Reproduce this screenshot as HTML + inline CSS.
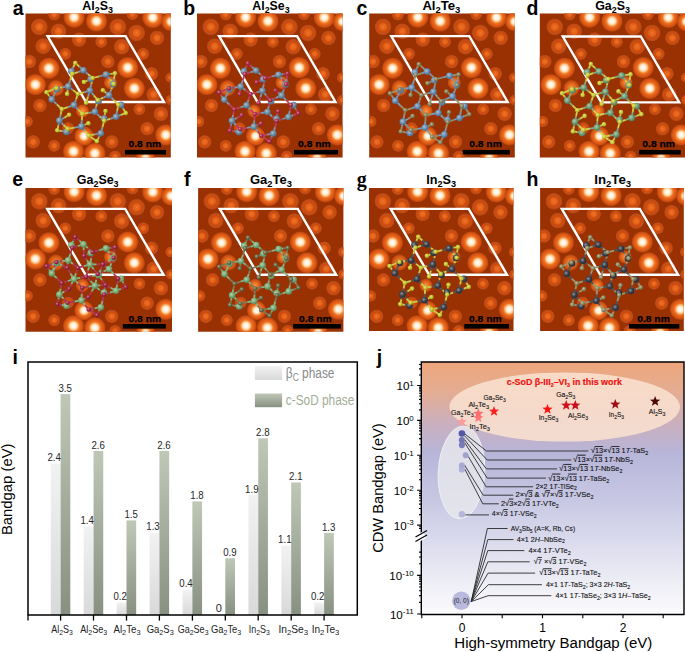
<!DOCTYPE html><html><head><meta charset="utf-8"><style>html,body{margin:0;padding:0;background:#fff;width:685px;height:652px;overflow:hidden}svg{display:block}text{font-family:"Liberation Sans",sans-serif}.ttl{font-weight:bold;font-size:12.5px}.sub{font-size:9px}.lbl{font-weight:bold;font-size:19.5px}.serif{font-family:"Liberation Serif",serif;font-size:20px}.sb{font-weight:bold;font-size:9.8px}.s{font-size:8px}.bv{font-size:11px;fill:#262626}.xl{font-size:10.5px;fill:#222}.lg{font-size:14px}.ls{font-size:10px}.ax{font-size:15.5px}.jt{font-weight:bold;font-size:9.2px;fill:#ee1010;stroke:#ee1010;stroke-width:0.15px}.s7{font-size:5.5px}.s6{font-size:5.5px}.jl{font-size:7.6px;fill:#111;stroke:#111;stroke-width:0.12px}.js{font-size:7.4px;fill:#111;stroke:#111;stroke-width:0.12px}.j0{font-size:6.5px;fill:#222}.jy{font-size:11.6px}.sup{font-size:8px}.jx{font-size:12px}</style></head><body>
<svg width="685" height="652" viewBox="0 0 685 652">
<defs><radialGradient id="gB"><stop offset="0" stop-color="#fffcf6"/><stop offset="0.2" stop-color="#fff4e4"/><stop offset="0.33" stop-color="#fdd6a8"/><stop offset="0.45" stop-color="#f8a052"/><stop offset="0.52" stop-color="#ef7626"/><stop offset="0.66" stop-color="#e6621a"/><stop offset="0.8" stop-color="#d65414"/><stop offset="0.9" stop-color="#c44a10"/><stop offset="1" stop-color="#b04010" stop-opacity="0"/></radialGradient><radialGradient id="gG"><stop offset="0" stop-color="#f8984a"/><stop offset="0.3" stop-color="#f07c2c"/><stop offset="0.6" stop-color="#dc6018"/><stop offset="0.85" stop-color="#c44c12"/><stop offset="1" stop-color="#b04010" stop-opacity="0"/></radialGradient><radialGradient id="gM"><stop offset="0" stop-color="#ef7c3c"/><stop offset="0.12" stop-color="#ea6a22"/><stop offset="0.38" stop-color="#e26218"/><stop offset="0.5" stop-color="#d04d0e"/><stop offset="0.64" stop-color="#ca4b10"/><stop offset="0.75" stop-color="#c44f18"/><stop offset="0.9" stop-color="#b84614"/><stop offset="1" stop-color="#a83c0c" stop-opacity="0"/></radialGradient><radialGradient id="gS"><stop offset="0" stop-color="#e05a14"/><stop offset="0.45" stop-color="#d45210"/><stop offset="0.8" stop-color="#bc4610"/><stop offset="1" stop-color="#a83c0c" stop-opacity="0"/></radialGradient>
<radialGradient id="as_8a845a" cx="0.4" cy="0.38" r="0.62"><stop offset="0" stop-color="#bebba4"/><stop offset="0.55" stop-color="#8a845a"/><stop offset="1" stop-color="#676343"/></radialGradient>
<radialGradient id="ab_7aac74" cx="0.4" cy="0.38" r="0.62"><stop offset="0" stop-color="#b5d1b2"/><stop offset="0.55" stop-color="#7aac74"/><stop offset="1" stop-color="#5b8157"/></radialGradient>
<radialGradient id="as_b02848" cx="0.4" cy="0.38" r="0.62"><stop offset="0" stop-color="#d3889a"/><stop offset="0.55" stop-color="#b02848"/><stop offset="1" stop-color="#841e36"/></radialGradient>
<radialGradient id="as_c8c82c" cx="0.4" cy="0.38" r="0.62"><stop offset="0" stop-color="#e0e08a"/><stop offset="0.55" stop-color="#c8c82c"/><stop offset="1" stop-color="#969621"/></radialGradient>
<radialGradient id="ab_70a078" cx="0.4" cy="0.38" r="0.62"><stop offset="0" stop-color="#b0cab4"/><stop offset="0.55" stop-color="#70a078"/><stop offset="1" stop-color="#54785a"/></radialGradient>
<radialGradient id="ab_3c4048" cx="0.4" cy="0.38" r="0.62"><stop offset="0" stop-color="#93959a"/><stop offset="0.55" stop-color="#3c4048"/><stop offset="1" stop-color="#2d3036"/></radialGradient>
<radialGradient id="ab_78ac78" cx="0.4" cy="0.38" r="0.62"><stop offset="0" stop-color="#b4d1b4"/><stop offset="0.55" stop-color="#78ac78"/><stop offset="1" stop-color="#5a815a"/></radialGradient>
<radialGradient id="ab_6d8ca6" cx="0.4" cy="0.38" r="0.62"><stop offset="0" stop-color="#aebfce"/><stop offset="0.55" stop-color="#6d8ca6"/><stop offset="1" stop-color="#51697c"/></radialGradient>
<radialGradient id="as_6c6844" cx="0.4" cy="0.38" r="0.62"><stop offset="0" stop-color="#aeab98"/><stop offset="0.55" stop-color="#6c6844"/><stop offset="1" stop-color="#514e33"/></radialGradient>
<radialGradient id="ab_6890b6" cx="0.4" cy="0.38" r="0.62"><stop offset="0" stop-color="#abc1d6"/><stop offset="0.55" stop-color="#6890b6"/><stop offset="1" stop-color="#4e6c88"/></radialGradient>
<radialGradient id="as_cccc34" cx="0.4" cy="0.38" r="0.62"><stop offset="0" stop-color="#e2e28f"/><stop offset="0.55" stop-color="#cccc34"/><stop offset="1" stop-color="#999927"/></radialGradient>
<radialGradient id="as_a02044" cx="0.4" cy="0.38" r="0.62"><stop offset="0" stop-color="#ca8498"/><stop offset="0.55" stop-color="#a02044"/><stop offset="1" stop-color="#781833"/></radialGradient>
<radialGradient id="as_8e8c60" cx="0.4" cy="0.38" r="0.62"><stop offset="0" stop-color="#c0bfa7"/><stop offset="0.55" stop-color="#8e8c60"/><stop offset="1" stop-color="#6a6948"/></radialGradient>
<radialGradient id="ab_3a3e48" cx="0.4" cy="0.38" r="0.62"><stop offset="0" stop-color="#92949a"/><stop offset="0.55" stop-color="#3a3e48"/><stop offset="1" stop-color="#2b2e36"/></radialGradient>
<g id="stmbg"><rect x="-5" y="-5" width="160" height="160" fill="#993103"/><circle cx="53.6" cy="26.0" r="7.59" fill="url(#gM)"/><circle cx="75.8" cy="28.2" r="6.33" fill="url(#gM)"/><circle cx="39.8" cy="40.3" r="6.33" fill="url(#gM)"/><circle cx="117.7" cy="40.3" r="6.33" fill="url(#gM)"/><circle cx="113.9" cy="95.7" r="6.33" fill="url(#gM)"/><circle cx="28.7" cy="132.2" r="6.33" fill="url(#gM)"/><circle cx="28.7" cy="0.9" r="6.33" fill="url(#gM)"/><circle cx="107.0" cy="0.5" r="6.33" fill="url(#gM)"/><circle cx="42.6" cy="114.6" r="6.33" fill="url(#gM)"/><circle cx="89.6" cy="143.0" r="6.33" fill="url(#gM)"/><circle cx="13.8" cy="13.3" r="8.80" fill="url(#gM)"/><circle cx="33.1" cy="17.7" r="8.25" fill="url(#gM)"/><circle cx="92.3" cy="13.3" r="8.80" fill="url(#gM)"/><circle cx="111.1" cy="19.3" r="8.80" fill="url(#gM)"/><circle cx="131.5" cy="24.3" r="7.70" fill="url(#gM)"/><circle cx="17.7" cy="32.6" r="8.25" fill="url(#gM)"/><circle cx="96.2" cy="33.1" r="8.25" fill="url(#gM)"/><circle cx="3.9" cy="48.0" r="7.15" fill="url(#gM)"/><circle cx="82.4" cy="48.0" r="7.15" fill="url(#gM)"/><circle cx="126.0" cy="60.2" r="7.15" fill="url(#gM)"/><circle cx="14.4" cy="91.9" r="7.15" fill="url(#gM)"/><circle cx="7.7" cy="128.3" r="7.15" fill="url(#gM)"/><circle cx="128.2" cy="80.8" r="7.70" fill="url(#gM)"/><circle cx="135.4" cy="100.2" r="7.70" fill="url(#gM)"/><circle cx="121.6" cy="115.1" r="7.15" fill="url(#gM)"/><circle cx="86.3" cy="128.3" r="7.15" fill="url(#gM)"/><circle cx="1.7" cy="107.9" r="6.05" fill="url(#gM)"/><circle cx="145.0" cy="64.0" r="5.50" fill="url(#gM)"/><circle cx="145.3" cy="86.4" r="5.50" fill="url(#gM)"/><circle cx="30.5" cy="74.5" r="8.50" fill="url(#gG)"/><circle cx="56.9" cy="97.4" r="7.00" fill="url(#gG)"/><circle cx="85.0" cy="69.0" r="7.00" fill="url(#gG)"/><circle cx="48.6" cy="3.6" r="11.00" fill="url(#gB)"/><circle cx="71.0" cy="7.5" r="11.00" fill="url(#gB)"/><circle cx="127.3" cy="3.9" r="11.00" fill="url(#gB)"/><circle cx="145.5" cy="8.0" r="10.00" fill="url(#gB)"/><circle cx="23.4" cy="54.7" r="11.00" fill="url(#gB)"/><circle cx="9.9" cy="71.0" r="11.00" fill="url(#gB)"/><circle cx="102.2" cy="54.0" r="11.00" fill="url(#gB)"/><circle cx="108.8" cy="74.8" r="11.00" fill="url(#gB)"/><circle cx="140.3" cy="121.3" r="11.00" fill="url(#gB)"/><circle cx="48.0" cy="137.8" r="11.00" fill="url(#gB)"/><circle cx="69.3" cy="139.8" r="11.00" fill="url(#gB)"/><circle cx="120.0" cy="145.0" r="10.00" fill="url(#gB)"/><circle cx="58.5" cy="122.5" r="10.00" fill="url(#gB)"/></g>
</defs>
<g transform="translate(25.5,13.6)">
<clipPath id="pca"><rect x="0" y="0" width="145.3" height="143.9"/></clipPath>
<g clip-path="url(#pca)"><use href="#stmbg" x="0.0"/>
<path d="M22.1,22.5 L100.1,22.5 L138.5,88.4 L60.5,88.4 Z" fill="none" stroke="#fff" stroke-width="2.4" stroke-linejoin="miter"/>
<g transform="translate(0.00,0.00)"><g stroke-width="1.8" stroke-linecap="butt"><line x1="49.8" y1="49.4" x2="47.8" y2="53.5" stroke="#cece45"/><line x1="47.8" y1="53.5" x2="45.9" y2="57.6" stroke="#7e99b0"/><line x1="49.8" y1="49.4" x2="53.9" y2="53.1" stroke="#cece45"/><line x1="53.9" y1="53.1" x2="58.0" y2="56.8" stroke="#7e99b0"/><line x1="46.8" y1="60.2" x2="52.4" y2="58.5" stroke="#cece45"/><line x1="52.4" y1="58.5" x2="58.0" y2="56.8" stroke="#7e99b0"/><line x1="46.8" y1="60.2" x2="46.3" y2="58.9" stroke="#cece45"/><line x1="46.3" y1="58.9" x2="45.9" y2="57.6" stroke="#7e99b0"/><line x1="58.0" y1="56.8" x2="62.5" y2="60.6" stroke="#7e99b0"/><line x1="62.5" y1="60.6" x2="67.1" y2="64.4" stroke="#cece45"/><line x1="67.1" y1="64.4" x2="73.8" y2="62.7" stroke="#cece45"/><line x1="73.8" y1="62.7" x2="80.5" y2="60.9" stroke="#7e99b0"/><line x1="80.5" y1="60.9" x2="85.0" y2="60.3" stroke="#7e99b0"/><line x1="85.0" y1="60.3" x2="89.5" y2="59.7" stroke="#cece45"/><line x1="80.5" y1="60.9" x2="84.3" y2="65.6" stroke="#7e99b0"/><line x1="84.3" y1="65.6" x2="88.2" y2="70.3" stroke="#cece45"/><line x1="89.5" y1="59.7" x2="88.5" y2="65.2" stroke="#cece45"/><line x1="88.5" y1="65.2" x2="87.6" y2="70.6" stroke="#7e99b0"/><line x1="88.2" y1="70.3" x2="87.9" y2="70.4" stroke="#cece45"/><line x1="87.9" y1="70.4" x2="87.6" y2="70.6" stroke="#7e99b0"/><line x1="65.2" y1="65.5" x2="61.9" y2="67.0" stroke="#7e99b0"/><line x1="61.9" y1="67.0" x2="58.5" y2="68.4" stroke="#cece45"/><line x1="67.1" y1="64.4" x2="66.2" y2="65.0" stroke="#cece45"/><line x1="66.2" y1="65.0" x2="65.2" y2="65.5" stroke="#7e99b0"/><line x1="67.1" y1="64.4" x2="65.8" y2="70.7" stroke="#cece45"/><line x1="65.8" y1="70.7" x2="64.4" y2="77.0" stroke="#7e99b0"/><line x1="64.4" y1="77.0" x2="58.4" y2="78.7" stroke="#7e99b0"/><line x1="58.4" y1="78.7" x2="52.4" y2="80.3" stroke="#cece45"/><line x1="64.4" y1="77.0" x2="68.3" y2="81.8" stroke="#7e99b0"/><line x1="68.3" y1="81.8" x2="72.3" y2="86.5" stroke="#cece45"/><line x1="83.5" y1="81.6" x2="80.5" y2="79.2" stroke="#7e99b0"/><line x1="80.5" y1="79.2" x2="77.4" y2="76.7" stroke="#cece45"/><line x1="83.5" y1="81.6" x2="77.9" y2="84.0" stroke="#7e99b0"/><line x1="77.9" y1="84.0" x2="72.3" y2="86.5" stroke="#cece45"/><line x1="83.5" y1="81.6" x2="88.2" y2="86.4" stroke="#7e99b0"/><line x1="88.2" y1="86.4" x2="92.8" y2="91.2" stroke="#cece45"/><line x1="88.2" y1="70.3" x2="85.8" y2="75.9" stroke="#cece45"/><line x1="85.8" y1="75.9" x2="83.5" y2="81.6" stroke="#7e99b0"/><line x1="42.7" y1="72.8" x2="47.5" y2="76.5" stroke="#7e99b0"/><line x1="47.5" y1="76.5" x2="52.4" y2="80.3" stroke="#cece45"/><line x1="42.7" y1="72.8" x2="42.2" y2="76.5" stroke="#7e99b0"/><line x1="42.2" y1="76.5" x2="41.6" y2="80.3" stroke="#cece45"/><line x1="42.7" y1="72.8" x2="44.8" y2="66.5" stroke="#7e99b0"/><line x1="44.8" y1="66.5" x2="46.8" y2="60.2" stroke="#cece45"/><line x1="30.9" y1="74.6" x2="36.8" y2="73.7" stroke="#cece45"/><line x1="36.8" y1="73.7" x2="42.7" y2="72.8" stroke="#7e99b0"/><line x1="21.0" y1="78.6" x2="25.9" y2="76.6" stroke="#cece45"/><line x1="25.9" y1="76.6" x2="30.9" y2="74.6" stroke="#cece45"/><line x1="21.0" y1="78.6" x2="23.6" y2="82.2" stroke="#cece45"/><line x1="23.6" y1="82.2" x2="26.3" y2="85.9" stroke="#7e99b0"/><line x1="31.5" y1="75.6" x2="28.9" y2="80.8" stroke="#7e99b0"/><line x1="28.9" y1="80.8" x2="26.3" y2="85.9" stroke="#7e99b0"/><line x1="30.9" y1="74.6" x2="31.2" y2="75.1" stroke="#cece45"/><line x1="31.2" y1="75.1" x2="31.5" y2="75.6" stroke="#7e99b0"/><line x1="52.4" y1="80.3" x2="50.5" y2="85.9" stroke="#cece45"/><line x1="50.5" y1="85.9" x2="48.5" y2="91.5" stroke="#7e99b0"/><line x1="60.6" y1="89.2" x2="62.5" y2="83.1" stroke="#cece45"/><line x1="62.5" y1="83.1" x2="64.4" y2="77.0" stroke="#7e99b0"/><line x1="69.4" y1="98.2" x2="70.8" y2="92.3" stroke="#7e99b0"/><line x1="70.8" y1="92.3" x2="72.3" y2="86.5" stroke="#cece45"/><line x1="72.3" y1="86.5" x2="72.7" y2="87.0" stroke="#cece45"/><line x1="72.7" y1="87.0" x2="73.0" y2="87.6" stroke="#7e99b0"/><line x1="69.4" y1="98.2" x2="74.1" y2="102.7" stroke="#7e99b0"/><line x1="74.1" y1="102.7" x2="78.7" y2="107.1" stroke="#cece45"/><line x1="80.0" y1="97.4" x2="79.2" y2="101.2" stroke="#cece45"/><line x1="79.2" y1="101.2" x2="78.5" y2="105.0" stroke="#7e99b0"/><line x1="78.7" y1="107.1" x2="84.6" y2="105.2" stroke="#cece45"/><line x1="84.6" y1="105.2" x2="90.5" y2="103.2" stroke="#7e99b0"/><line x1="90.5" y1="103.2" x2="95.4" y2="101.3" stroke="#7e99b0"/><line x1="95.4" y1="101.3" x2="100.3" y2="99.5" stroke="#cece45"/><line x1="100.3" y1="99.5" x2="97.9" y2="95.4" stroke="#cece45"/><line x1="97.9" y1="95.4" x2="95.5" y2="91.3" stroke="#7e99b0"/><line x1="95.5" y1="91.3" x2="94.2" y2="91.2" stroke="#7e99b0"/><line x1="94.2" y1="91.2" x2="92.8" y2="91.2" stroke="#cece45"/><line x1="78.7" y1="107.1" x2="77.0" y2="113.4" stroke="#cece45"/><line x1="77.0" y1="113.4" x2="75.3" y2="119.7" stroke="#7e99b0"/><line x1="75.3" y1="119.7" x2="73.3" y2="123.7" stroke="#7e99b0"/><line x1="73.3" y1="123.7" x2="71.4" y2="127.6" stroke="#cece45"/><line x1="63.2" y1="122.0" x2="69.2" y2="120.8" stroke="#cece45"/><line x1="69.2" y1="120.8" x2="75.3" y2="119.7" stroke="#7e99b0"/><line x1="63.2" y1="122.0" x2="67.3" y2="124.8" stroke="#cece45"/><line x1="67.3" y1="124.8" x2="71.4" y2="127.6" stroke="#cece45"/><line x1="63.2" y1="122.0" x2="59.5" y2="117.4" stroke="#cece45"/><line x1="59.5" y1="117.4" x2="55.9" y2="112.8" stroke="#7e99b0"/><line x1="55.9" y1="112.8" x2="59.4" y2="111.2" stroke="#7e99b0"/><line x1="59.4" y1="111.2" x2="62.9" y2="109.6" stroke="#cece45"/><line x1="55.9" y1="112.8" x2="49.0" y2="114.0" stroke="#7e99b0"/><line x1="49.0" y1="114.0" x2="42.1" y2="115.3" stroke="#cece45"/><line x1="55.9" y1="112.8" x2="56.3" y2="106.5" stroke="#7e99b0"/><line x1="56.3" y1="106.5" x2="56.8" y2="100.3" stroke="#cece45"/><line x1="56.8" y1="100.3" x2="52.6" y2="95.9" stroke="#cece45"/><line x1="52.6" y1="95.9" x2="48.5" y2="91.5" stroke="#7e99b0"/><line x1="56.8" y1="100.3" x2="63.1" y2="99.2" stroke="#cece45"/><line x1="63.1" y1="99.2" x2="69.4" y2="98.2" stroke="#7e99b0"/><line x1="36.3" y1="95.5" x2="31.3" y2="90.7" stroke="#cece45"/><line x1="31.3" y1="90.7" x2="26.3" y2="85.9" stroke="#7e99b0"/><line x1="36.3" y1="95.5" x2="42.4" y2="93.5" stroke="#cece45"/><line x1="42.4" y1="93.5" x2="48.5" y2="91.5" stroke="#7e99b0"/><line x1="36.3" y1="95.5" x2="35.1" y2="101.2" stroke="#cece45"/><line x1="35.1" y1="101.2" x2="33.9" y2="107.0" stroke="#7e99b0"/><line x1="43.6" y1="101.2" x2="38.8" y2="104.1" stroke="#cece45"/><line x1="38.8" y1="104.1" x2="33.9" y2="107.0" stroke="#7e99b0"/><line x1="42.1" y1="115.3" x2="38.0" y2="111.2" stroke="#cece45"/><line x1="38.0" y1="111.2" x2="33.9" y2="107.0" stroke="#7e99b0"/><line x1="42.1" y1="115.3" x2="41.5" y2="116.8" stroke="#cece45"/><line x1="41.5" y1="116.8" x2="41.0" y2="118.3" stroke="#7e99b0"/><line x1="31.8" y1="116.7" x2="32.9" y2="111.8" stroke="#cece45"/><line x1="32.9" y1="111.8" x2="33.9" y2="107.0" stroke="#7e99b0"/><line x1="31.8" y1="116.7" x2="36.4" y2="117.5" stroke="#cece45"/><line x1="36.4" y1="117.5" x2="41.0" y2="118.3" stroke="#7e99b0"/><line x1="92.8" y1="91.2" x2="91.7" y2="97.2" stroke="#cece45"/><line x1="91.7" y1="97.2" x2="90.5" y2="103.2" stroke="#7e99b0"/></g><circle cx="45.9" cy="57.6" r="3.3" fill="url(#ab_6d8ca6)"/><circle cx="58.0" cy="56.8" r="3.3" fill="url(#ab_6d8ca6)"/><circle cx="65.2" cy="65.5" r="3.3" fill="url(#ab_6d8ca6)"/><circle cx="80.5" cy="60.9" r="3.3" fill="url(#ab_6d8ca6)"/><circle cx="87.6" cy="70.6" r="3.3" fill="url(#ab_6d8ca6)"/><circle cx="42.7" cy="72.8" r="3.3" fill="url(#ab_6d8ca6)"/><circle cx="64.4" cy="77.0" r="3.3" fill="url(#ab_6d8ca6)"/><circle cx="83.5" cy="81.6" r="3.3" fill="url(#ab_6d8ca6)"/><circle cx="31.5" cy="75.6" r="3.3" fill="url(#ab_6d8ca6)"/><circle cx="26.3" cy="85.9" r="3.3" fill="url(#ab_6d8ca6)"/><circle cx="48.5" cy="91.5" r="3.3" fill="url(#ab_6d8ca6)"/><circle cx="69.4" cy="98.2" r="3.3" fill="url(#ab_6d8ca6)"/><circle cx="73.0" cy="87.6" r="3.3" fill="url(#ab_6d8ca6)"/><circle cx="95.5" cy="91.3" r="3.3" fill="url(#ab_6d8ca6)"/><circle cx="90.5" cy="103.2" r="3.3" fill="url(#ab_6d8ca6)"/><circle cx="33.9" cy="107.0" r="3.3" fill="url(#ab_6d8ca6)"/><circle cx="55.9" cy="112.8" r="3.3" fill="url(#ab_6d8ca6)"/><circle cx="75.3" cy="119.7" r="3.3" fill="url(#ab_6d8ca6)"/><circle cx="41.0" cy="118.3" r="3.3" fill="url(#ab_6d8ca6)"/><circle cx="78.5" cy="105.0" r="3.3" fill="url(#ab_6d8ca6)"/><circle cx="49.8" cy="49.4" r="2.3" fill="url(#as_c8c82c)"/><circle cx="46.8" cy="60.2" r="2.3" fill="url(#as_c8c82c)"/><circle cx="67.1" cy="64.4" r="2.3" fill="url(#as_c8c82c)"/><circle cx="58.5" cy="68.4" r="2.3" fill="url(#as_c8c82c)"/><circle cx="89.5" cy="59.7" r="2.3" fill="url(#as_c8c82c)"/><circle cx="88.2" cy="70.3" r="2.3" fill="url(#as_c8c82c)"/><circle cx="77.4" cy="76.7" r="2.3" fill="url(#as_c8c82c)"/><circle cx="30.9" cy="74.6" r="2.3" fill="url(#as_c8c82c)"/><circle cx="21.0" cy="78.6" r="2.3" fill="url(#as_c8c82c)"/><circle cx="41.6" cy="80.3" r="2.3" fill="url(#as_c8c82c)"/><circle cx="52.4" cy="80.3" r="2.3" fill="url(#as_c8c82c)"/><circle cx="72.3" cy="86.5" r="2.3" fill="url(#as_c8c82c)"/><circle cx="60.6" cy="89.2" r="2.3" fill="url(#as_c8c82c)"/><circle cx="92.8" cy="91.2" r="2.3" fill="url(#as_c8c82c)"/><circle cx="100.3" cy="99.5" r="2.3" fill="url(#as_c8c82c)"/><circle cx="36.3" cy="95.5" r="2.3" fill="url(#as_c8c82c)"/><circle cx="43.6" cy="101.2" r="2.3" fill="url(#as_c8c82c)"/><circle cx="56.8" cy="100.3" r="2.3" fill="url(#as_c8c82c)"/><circle cx="80.0" cy="97.4" r="2.3" fill="url(#as_c8c82c)"/><circle cx="78.7" cy="107.1" r="2.3" fill="url(#as_c8c82c)"/><circle cx="62.9" cy="109.6" r="2.3" fill="url(#as_c8c82c)"/><circle cx="42.1" cy="115.3" r="2.3" fill="url(#as_c8c82c)"/><circle cx="31.8" cy="116.7" r="2.3" fill="url(#as_c8c82c)"/><circle cx="63.2" cy="122.0" r="2.3" fill="url(#as_c8c82c)"/><circle cx="71.4" cy="127.6" r="2.3" fill="url(#as_c8c82c)"/></g>
<rect x="99.5" y="136.3" width="41.0" height="4.6" fill="#000"/>
<text x="119.3" y="133.9" text-anchor="middle" class="sb" textLength="32.6" lengthAdjust="spacingAndGlyphs" stroke="#000" stroke-width="0.25">0.8 nm</text>
</g></g>
<text x="12.8" y="14.6" class="lbl">a</text>
<text x="97.6" y="10.2" text-anchor="middle" class="ttl" textLength="30.6" lengthAdjust="spacingAndGlyphs">Al<tspan class="sub" dy="3">2</tspan><tspan dy="-3">S</tspan><tspan class="sub" dy="3">3</tspan></text>
<g transform="translate(197.0,13.6)">
<clipPath id="pcb"><rect x="0" y="0" width="145.6" height="143.9"/></clipPath>
<g clip-path="url(#pcb)"><use href="#stmbg" x="0.0"/>
<path d="M22.1,22.5 L100.1,22.5 L138.5,88.4 L60.5,88.4 Z" fill="none" stroke="#fff" stroke-width="2.4" stroke-linejoin="miter"/>
<g transform="translate(1.00,0.20)"><g stroke-width="1.8" stroke-linecap="butt"><line x1="49.8" y1="49.4" x2="47.8" y2="53.5" stroke="#b9415d"/><line x1="47.8" y1="53.5" x2="45.9" y2="57.6" stroke="#7e99b0"/><line x1="49.8" y1="49.4" x2="53.9" y2="53.1" stroke="#b9415d"/><line x1="53.9" y1="53.1" x2="58.0" y2="56.8" stroke="#7e99b0"/><line x1="46.8" y1="60.2" x2="52.4" y2="58.5" stroke="#b9415d"/><line x1="52.4" y1="58.5" x2="58.0" y2="56.8" stroke="#7e99b0"/><line x1="46.8" y1="60.2" x2="46.3" y2="58.9" stroke="#b9415d"/><line x1="46.3" y1="58.9" x2="45.9" y2="57.6" stroke="#7e99b0"/><line x1="58.0" y1="56.8" x2="62.5" y2="60.6" stroke="#7e99b0"/><line x1="62.5" y1="60.6" x2="67.1" y2="64.4" stroke="#b9415d"/><line x1="67.1" y1="64.4" x2="73.8" y2="62.7" stroke="#b9415d"/><line x1="73.8" y1="62.7" x2="80.5" y2="60.9" stroke="#7e99b0"/><line x1="80.5" y1="60.9" x2="85.0" y2="60.3" stroke="#7e99b0"/><line x1="85.0" y1="60.3" x2="89.5" y2="59.7" stroke="#b9415d"/><line x1="80.5" y1="60.9" x2="84.3" y2="65.6" stroke="#7e99b0"/><line x1="84.3" y1="65.6" x2="88.2" y2="70.3" stroke="#b9415d"/><line x1="89.5" y1="59.7" x2="88.5" y2="65.2" stroke="#b9415d"/><line x1="88.5" y1="65.2" x2="87.6" y2="70.6" stroke="#7e99b0"/><line x1="88.2" y1="70.3" x2="87.9" y2="70.4" stroke="#b9415d"/><line x1="87.9" y1="70.4" x2="87.6" y2="70.6" stroke="#7e99b0"/><line x1="65.2" y1="65.5" x2="61.9" y2="67.0" stroke="#7e99b0"/><line x1="61.9" y1="67.0" x2="58.5" y2="68.4" stroke="#b9415d"/><line x1="67.1" y1="64.4" x2="66.2" y2="65.0" stroke="#b9415d"/><line x1="66.2" y1="65.0" x2="65.2" y2="65.5" stroke="#7e99b0"/><line x1="67.1" y1="64.4" x2="65.8" y2="70.7" stroke="#b9415d"/><line x1="65.8" y1="70.7" x2="64.4" y2="77.0" stroke="#7e99b0"/><line x1="64.4" y1="77.0" x2="58.4" y2="78.7" stroke="#7e99b0"/><line x1="58.4" y1="78.7" x2="52.4" y2="80.3" stroke="#b9415d"/><line x1="64.4" y1="77.0" x2="68.3" y2="81.8" stroke="#7e99b0"/><line x1="68.3" y1="81.8" x2="72.3" y2="86.5" stroke="#b9415d"/><line x1="83.5" y1="81.6" x2="80.5" y2="79.2" stroke="#7e99b0"/><line x1="80.5" y1="79.2" x2="77.4" y2="76.7" stroke="#b9415d"/><line x1="83.5" y1="81.6" x2="77.9" y2="84.0" stroke="#7e99b0"/><line x1="77.9" y1="84.0" x2="72.3" y2="86.5" stroke="#b9415d"/><line x1="83.5" y1="81.6" x2="88.2" y2="86.4" stroke="#7e99b0"/><line x1="88.2" y1="86.4" x2="92.8" y2="91.2" stroke="#b9415d"/><line x1="88.2" y1="70.3" x2="85.8" y2="75.9" stroke="#b9415d"/><line x1="85.8" y1="75.9" x2="83.5" y2="81.6" stroke="#7e99b0"/><line x1="42.7" y1="72.8" x2="47.5" y2="76.5" stroke="#7e99b0"/><line x1="47.5" y1="76.5" x2="52.4" y2="80.3" stroke="#b9415d"/><line x1="42.7" y1="72.8" x2="42.2" y2="76.5" stroke="#7e99b0"/><line x1="42.2" y1="76.5" x2="41.6" y2="80.3" stroke="#b9415d"/><line x1="42.7" y1="72.8" x2="44.8" y2="66.5" stroke="#7e99b0"/><line x1="44.8" y1="66.5" x2="46.8" y2="60.2" stroke="#b9415d"/><line x1="30.9" y1="74.6" x2="36.8" y2="73.7" stroke="#b9415d"/><line x1="36.8" y1="73.7" x2="42.7" y2="72.8" stroke="#7e99b0"/><line x1="21.0" y1="78.6" x2="25.9" y2="76.6" stroke="#b9415d"/><line x1="25.9" y1="76.6" x2="30.9" y2="74.6" stroke="#b9415d"/><line x1="21.0" y1="78.6" x2="23.6" y2="82.2" stroke="#b9415d"/><line x1="23.6" y1="82.2" x2="26.3" y2="85.9" stroke="#7e99b0"/><line x1="31.5" y1="75.6" x2="28.9" y2="80.8" stroke="#7e99b0"/><line x1="28.9" y1="80.8" x2="26.3" y2="85.9" stroke="#7e99b0"/><line x1="30.9" y1="74.6" x2="31.2" y2="75.1" stroke="#b9415d"/><line x1="31.2" y1="75.1" x2="31.5" y2="75.6" stroke="#7e99b0"/><line x1="52.4" y1="80.3" x2="50.5" y2="85.9" stroke="#b9415d"/><line x1="50.5" y1="85.9" x2="48.5" y2="91.5" stroke="#7e99b0"/><line x1="60.6" y1="89.2" x2="62.5" y2="83.1" stroke="#b9415d"/><line x1="62.5" y1="83.1" x2="64.4" y2="77.0" stroke="#7e99b0"/><line x1="69.4" y1="98.2" x2="70.8" y2="92.3" stroke="#7e99b0"/><line x1="70.8" y1="92.3" x2="72.3" y2="86.5" stroke="#b9415d"/><line x1="72.3" y1="86.5" x2="72.7" y2="87.0" stroke="#b9415d"/><line x1="72.7" y1="87.0" x2="73.0" y2="87.6" stroke="#7e99b0"/><line x1="69.4" y1="98.2" x2="74.1" y2="102.7" stroke="#7e99b0"/><line x1="74.1" y1="102.7" x2="78.7" y2="107.1" stroke="#b9415d"/><line x1="80.0" y1="97.4" x2="79.2" y2="101.2" stroke="#b9415d"/><line x1="79.2" y1="101.2" x2="78.5" y2="105.0" stroke="#7e99b0"/><line x1="78.7" y1="107.1" x2="84.6" y2="105.2" stroke="#b9415d"/><line x1="84.6" y1="105.2" x2="90.5" y2="103.2" stroke="#7e99b0"/><line x1="90.5" y1="103.2" x2="95.4" y2="101.3" stroke="#7e99b0"/><line x1="95.4" y1="101.3" x2="100.3" y2="99.5" stroke="#b9415d"/><line x1="100.3" y1="99.5" x2="97.9" y2="95.4" stroke="#b9415d"/><line x1="97.9" y1="95.4" x2="95.5" y2="91.3" stroke="#7e99b0"/><line x1="95.5" y1="91.3" x2="94.2" y2="91.2" stroke="#7e99b0"/><line x1="94.2" y1="91.2" x2="92.8" y2="91.2" stroke="#b9415d"/><line x1="78.7" y1="107.1" x2="77.0" y2="113.4" stroke="#b9415d"/><line x1="77.0" y1="113.4" x2="75.3" y2="119.7" stroke="#7e99b0"/><line x1="75.3" y1="119.7" x2="73.3" y2="123.7" stroke="#7e99b0"/><line x1="73.3" y1="123.7" x2="71.4" y2="127.6" stroke="#b9415d"/><line x1="63.2" y1="122.0" x2="69.2" y2="120.8" stroke="#b9415d"/><line x1="69.2" y1="120.8" x2="75.3" y2="119.7" stroke="#7e99b0"/><line x1="63.2" y1="122.0" x2="67.3" y2="124.8" stroke="#b9415d"/><line x1="67.3" y1="124.8" x2="71.4" y2="127.6" stroke="#b9415d"/><line x1="63.2" y1="122.0" x2="59.5" y2="117.4" stroke="#b9415d"/><line x1="59.5" y1="117.4" x2="55.9" y2="112.8" stroke="#7e99b0"/><line x1="55.9" y1="112.8" x2="59.4" y2="111.2" stroke="#7e99b0"/><line x1="59.4" y1="111.2" x2="62.9" y2="109.6" stroke="#b9415d"/><line x1="55.9" y1="112.8" x2="49.0" y2="114.0" stroke="#7e99b0"/><line x1="49.0" y1="114.0" x2="42.1" y2="115.3" stroke="#b9415d"/><line x1="55.9" y1="112.8" x2="56.3" y2="106.5" stroke="#7e99b0"/><line x1="56.3" y1="106.5" x2="56.8" y2="100.3" stroke="#b9415d"/><line x1="56.8" y1="100.3" x2="52.6" y2="95.9" stroke="#b9415d"/><line x1="52.6" y1="95.9" x2="48.5" y2="91.5" stroke="#7e99b0"/><line x1="56.8" y1="100.3" x2="63.1" y2="99.2" stroke="#b9415d"/><line x1="63.1" y1="99.2" x2="69.4" y2="98.2" stroke="#7e99b0"/><line x1="36.3" y1="95.5" x2="31.3" y2="90.7" stroke="#b9415d"/><line x1="31.3" y1="90.7" x2="26.3" y2="85.9" stroke="#7e99b0"/><line x1="36.3" y1="95.5" x2="42.4" y2="93.5" stroke="#b9415d"/><line x1="42.4" y1="93.5" x2="48.5" y2="91.5" stroke="#7e99b0"/><line x1="36.3" y1="95.5" x2="35.1" y2="101.2" stroke="#b9415d"/><line x1="35.1" y1="101.2" x2="33.9" y2="107.0" stroke="#7e99b0"/><line x1="43.6" y1="101.2" x2="38.8" y2="104.1" stroke="#b9415d"/><line x1="38.8" y1="104.1" x2="33.9" y2="107.0" stroke="#7e99b0"/><line x1="42.1" y1="115.3" x2="38.0" y2="111.2" stroke="#b9415d"/><line x1="38.0" y1="111.2" x2="33.9" y2="107.0" stroke="#7e99b0"/><line x1="42.1" y1="115.3" x2="41.5" y2="116.8" stroke="#b9415d"/><line x1="41.5" y1="116.8" x2="41.0" y2="118.3" stroke="#7e99b0"/><line x1="31.8" y1="116.7" x2="32.9" y2="111.8" stroke="#b9415d"/><line x1="32.9" y1="111.8" x2="33.9" y2="107.0" stroke="#7e99b0"/><line x1="31.8" y1="116.7" x2="36.4" y2="117.5" stroke="#b9415d"/><line x1="36.4" y1="117.5" x2="41.0" y2="118.3" stroke="#7e99b0"/><line x1="92.8" y1="91.2" x2="91.7" y2="97.2" stroke="#b9415d"/><line x1="91.7" y1="97.2" x2="90.5" y2="103.2" stroke="#7e99b0"/></g><circle cx="45.9" cy="57.6" r="3.3" fill="url(#ab_6d8ca6)"/><circle cx="58.0" cy="56.8" r="3.3" fill="url(#ab_6d8ca6)"/><circle cx="65.2" cy="65.5" r="3.3" fill="url(#ab_6d8ca6)"/><circle cx="80.5" cy="60.9" r="3.3" fill="url(#ab_6d8ca6)"/><circle cx="87.6" cy="70.6" r="3.3" fill="url(#ab_6d8ca6)"/><circle cx="42.7" cy="72.8" r="3.3" fill="url(#ab_6d8ca6)"/><circle cx="64.4" cy="77.0" r="3.3" fill="url(#ab_6d8ca6)"/><circle cx="83.5" cy="81.6" r="3.3" fill="url(#ab_6d8ca6)"/><circle cx="31.5" cy="75.6" r="3.3" fill="url(#ab_6d8ca6)"/><circle cx="26.3" cy="85.9" r="3.3" fill="url(#ab_6d8ca6)"/><circle cx="48.5" cy="91.5" r="3.3" fill="url(#ab_6d8ca6)"/><circle cx="69.4" cy="98.2" r="3.3" fill="url(#ab_6d8ca6)"/><circle cx="73.0" cy="87.6" r="3.3" fill="url(#ab_6d8ca6)"/><circle cx="95.5" cy="91.3" r="3.3" fill="url(#ab_6d8ca6)"/><circle cx="90.5" cy="103.2" r="3.3" fill="url(#ab_6d8ca6)"/><circle cx="33.9" cy="107.0" r="3.3" fill="url(#ab_6d8ca6)"/><circle cx="55.9" cy="112.8" r="3.3" fill="url(#ab_6d8ca6)"/><circle cx="75.3" cy="119.7" r="3.3" fill="url(#ab_6d8ca6)"/><circle cx="41.0" cy="118.3" r="3.3" fill="url(#ab_6d8ca6)"/><circle cx="78.5" cy="105.0" r="3.3" fill="url(#ab_6d8ca6)"/><circle cx="49.8" cy="49.4" r="2.3" fill="url(#as_b02848)"/><circle cx="46.8" cy="60.2" r="2.3" fill="url(#as_b02848)"/><circle cx="67.1" cy="64.4" r="2.3" fill="url(#as_b02848)"/><circle cx="58.5" cy="68.4" r="2.3" fill="url(#as_b02848)"/><circle cx="89.5" cy="59.7" r="2.3" fill="url(#as_b02848)"/><circle cx="88.2" cy="70.3" r="2.3" fill="url(#as_b02848)"/><circle cx="77.4" cy="76.7" r="2.3" fill="url(#as_b02848)"/><circle cx="30.9" cy="74.6" r="2.3" fill="url(#as_b02848)"/><circle cx="21.0" cy="78.6" r="2.3" fill="url(#as_b02848)"/><circle cx="41.6" cy="80.3" r="2.3" fill="url(#as_b02848)"/><circle cx="52.4" cy="80.3" r="2.3" fill="url(#as_b02848)"/><circle cx="72.3" cy="86.5" r="2.3" fill="url(#as_b02848)"/><circle cx="60.6" cy="89.2" r="2.3" fill="url(#as_b02848)"/><circle cx="92.8" cy="91.2" r="2.3" fill="url(#as_b02848)"/><circle cx="100.3" cy="99.5" r="2.3" fill="url(#as_b02848)"/><circle cx="36.3" cy="95.5" r="2.3" fill="url(#as_b02848)"/><circle cx="43.6" cy="101.2" r="2.3" fill="url(#as_b02848)"/><circle cx="56.8" cy="100.3" r="2.3" fill="url(#as_b02848)"/><circle cx="80.0" cy="97.4" r="2.3" fill="url(#as_b02848)"/><circle cx="78.7" cy="107.1" r="2.3" fill="url(#as_b02848)"/><circle cx="62.9" cy="109.6" r="2.3" fill="url(#as_b02848)"/><circle cx="42.1" cy="115.3" r="2.3" fill="url(#as_b02848)"/><circle cx="31.8" cy="116.7" r="2.3" fill="url(#as_b02848)"/><circle cx="63.2" cy="122.0" r="2.3" fill="url(#as_b02848)"/><circle cx="71.4" cy="127.6" r="2.3" fill="url(#as_b02848)"/></g>
<rect x="97.0" y="136.3" width="44.1" height="4.6" fill="#000"/>
<text x="117.4" y="133.9" text-anchor="middle" class="sb" textLength="32.6" lengthAdjust="spacingAndGlyphs" stroke="#000" stroke-width="0.25">0.8 nm</text>
</g></g>
<text x="183.3" y="14.6" class="lbl">b</text>
<text x="271.0" y="10.2" text-anchor="middle" class="ttl" textLength="37.3" lengthAdjust="spacingAndGlyphs">Al<tspan class="sub" dy="3">2</tspan><tspan dy="-3">Se</tspan><tspan class="sub" dy="3">3</tspan></text>
<g transform="translate(369.2,13.6)">
<clipPath id="pcc"><rect x="0" y="0" width="145.6" height="143.9"/></clipPath>
<g clip-path="url(#pcc)"><use href="#stmbg" x="0.0"/>
<path d="M22.1,22.5 L100.1,22.5 L138.5,88.4 L60.5,88.4 Z" fill="none" stroke="#fff" stroke-width="2.4" stroke-linejoin="miter"/>
<g transform="translate(-0.20,1.20)"><g stroke-width="1.8" stroke-linecap="butt"><line x1="49.8" y1="49.4" x2="47.8" y2="53.5" stroke="#98926d"/><line x1="47.8" y1="53.5" x2="45.9" y2="57.6" stroke="#7a9dbe"/><line x1="49.8" y1="49.4" x2="53.9" y2="53.1" stroke="#98926d"/><line x1="53.9" y1="53.1" x2="58.0" y2="56.8" stroke="#7a9dbe"/><line x1="46.8" y1="60.2" x2="52.4" y2="58.5" stroke="#98926d"/><line x1="52.4" y1="58.5" x2="58.0" y2="56.8" stroke="#7a9dbe"/><line x1="46.8" y1="60.2" x2="46.3" y2="58.9" stroke="#98926d"/><line x1="46.3" y1="58.9" x2="45.9" y2="57.6" stroke="#7a9dbe"/><line x1="58.0" y1="56.8" x2="62.5" y2="60.6" stroke="#7a9dbe"/><line x1="62.5" y1="60.6" x2="67.1" y2="64.4" stroke="#98926d"/><line x1="67.1" y1="64.4" x2="73.8" y2="62.7" stroke="#98926d"/><line x1="73.8" y1="62.7" x2="80.5" y2="60.9" stroke="#7a9dbe"/><line x1="80.5" y1="60.9" x2="85.0" y2="60.3" stroke="#7a9dbe"/><line x1="85.0" y1="60.3" x2="89.5" y2="59.7" stroke="#98926d"/><line x1="80.5" y1="60.9" x2="84.3" y2="65.6" stroke="#7a9dbe"/><line x1="84.3" y1="65.6" x2="88.2" y2="70.3" stroke="#98926d"/><line x1="89.5" y1="59.7" x2="88.5" y2="65.2" stroke="#98926d"/><line x1="88.5" y1="65.2" x2="87.6" y2="70.6" stroke="#7a9dbe"/><line x1="88.2" y1="70.3" x2="87.9" y2="70.4" stroke="#98926d"/><line x1="87.9" y1="70.4" x2="87.6" y2="70.6" stroke="#7a9dbe"/><line x1="65.2" y1="65.5" x2="61.9" y2="67.0" stroke="#7a9dbe"/><line x1="61.9" y1="67.0" x2="58.5" y2="68.4" stroke="#98926d"/><line x1="67.1" y1="64.4" x2="66.2" y2="65.0" stroke="#98926d"/><line x1="66.2" y1="65.0" x2="65.2" y2="65.5" stroke="#7a9dbe"/><line x1="67.1" y1="64.4" x2="65.8" y2="70.7" stroke="#98926d"/><line x1="65.8" y1="70.7" x2="64.4" y2="77.0" stroke="#7a9dbe"/><line x1="64.4" y1="77.0" x2="58.4" y2="78.7" stroke="#7a9dbe"/><line x1="58.4" y1="78.7" x2="52.4" y2="80.3" stroke="#98926d"/><line x1="64.4" y1="77.0" x2="68.3" y2="81.8" stroke="#7a9dbe"/><line x1="68.3" y1="81.8" x2="72.3" y2="86.5" stroke="#98926d"/><line x1="83.5" y1="81.6" x2="80.5" y2="79.2" stroke="#7a9dbe"/><line x1="80.5" y1="79.2" x2="77.4" y2="76.7" stroke="#98926d"/><line x1="83.5" y1="81.6" x2="77.9" y2="84.0" stroke="#7a9dbe"/><line x1="77.9" y1="84.0" x2="72.3" y2="86.5" stroke="#98926d"/><line x1="83.5" y1="81.6" x2="88.2" y2="86.4" stroke="#7a9dbe"/><line x1="88.2" y1="86.4" x2="92.8" y2="91.2" stroke="#98926d"/><line x1="88.2" y1="70.3" x2="85.8" y2="75.9" stroke="#98926d"/><line x1="85.8" y1="75.9" x2="83.5" y2="81.6" stroke="#7a9dbe"/><line x1="42.7" y1="72.8" x2="47.5" y2="76.5" stroke="#7a9dbe"/><line x1="47.5" y1="76.5" x2="52.4" y2="80.3" stroke="#98926d"/><line x1="42.7" y1="72.8" x2="42.2" y2="76.5" stroke="#7a9dbe"/><line x1="42.2" y1="76.5" x2="41.6" y2="80.3" stroke="#98926d"/><line x1="42.7" y1="72.8" x2="44.8" y2="66.5" stroke="#7a9dbe"/><line x1="44.8" y1="66.5" x2="46.8" y2="60.2" stroke="#98926d"/><line x1="30.9" y1="74.6" x2="36.8" y2="73.7" stroke="#98926d"/><line x1="36.8" y1="73.7" x2="42.7" y2="72.8" stroke="#7a9dbe"/><line x1="21.0" y1="78.6" x2="25.9" y2="76.6" stroke="#98926d"/><line x1="25.9" y1="76.6" x2="30.9" y2="74.6" stroke="#98926d"/><line x1="21.0" y1="78.6" x2="23.6" y2="82.2" stroke="#98926d"/><line x1="23.6" y1="82.2" x2="26.3" y2="85.9" stroke="#7a9dbe"/><line x1="31.5" y1="75.6" x2="28.9" y2="80.8" stroke="#7a9dbe"/><line x1="28.9" y1="80.8" x2="26.3" y2="85.9" stroke="#7a9dbe"/><line x1="30.9" y1="74.6" x2="31.2" y2="75.1" stroke="#98926d"/><line x1="31.2" y1="75.1" x2="31.5" y2="75.6" stroke="#7a9dbe"/><line x1="52.4" y1="80.3" x2="50.5" y2="85.9" stroke="#98926d"/><line x1="50.5" y1="85.9" x2="48.5" y2="91.5" stroke="#7a9dbe"/><line x1="60.6" y1="89.2" x2="62.5" y2="83.1" stroke="#98926d"/><line x1="62.5" y1="83.1" x2="64.4" y2="77.0" stroke="#7a9dbe"/><line x1="69.4" y1="98.2" x2="70.8" y2="92.3" stroke="#7a9dbe"/><line x1="70.8" y1="92.3" x2="72.3" y2="86.5" stroke="#98926d"/><line x1="72.3" y1="86.5" x2="72.7" y2="87.0" stroke="#98926d"/><line x1="72.7" y1="87.0" x2="73.0" y2="87.6" stroke="#7a9dbe"/><line x1="69.4" y1="98.2" x2="74.1" y2="102.7" stroke="#7a9dbe"/><line x1="74.1" y1="102.7" x2="78.7" y2="107.1" stroke="#98926d"/><line x1="80.0" y1="97.4" x2="79.2" y2="101.2" stroke="#98926d"/><line x1="79.2" y1="101.2" x2="78.5" y2="105.0" stroke="#7a9dbe"/><line x1="78.7" y1="107.1" x2="84.6" y2="105.2" stroke="#98926d"/><line x1="84.6" y1="105.2" x2="90.5" y2="103.2" stroke="#7a9dbe"/><line x1="90.5" y1="103.2" x2="95.4" y2="101.3" stroke="#7a9dbe"/><line x1="95.4" y1="101.3" x2="100.3" y2="99.5" stroke="#98926d"/><line x1="100.3" y1="99.5" x2="97.9" y2="95.4" stroke="#98926d"/><line x1="97.9" y1="95.4" x2="95.5" y2="91.3" stroke="#7a9dbe"/><line x1="95.5" y1="91.3" x2="94.2" y2="91.2" stroke="#7a9dbe"/><line x1="94.2" y1="91.2" x2="92.8" y2="91.2" stroke="#98926d"/><line x1="78.7" y1="107.1" x2="77.0" y2="113.4" stroke="#98926d"/><line x1="77.0" y1="113.4" x2="75.3" y2="119.7" stroke="#7a9dbe"/><line x1="75.3" y1="119.7" x2="73.3" y2="123.7" stroke="#7a9dbe"/><line x1="73.3" y1="123.7" x2="71.4" y2="127.6" stroke="#98926d"/><line x1="63.2" y1="122.0" x2="69.2" y2="120.8" stroke="#98926d"/><line x1="69.2" y1="120.8" x2="75.3" y2="119.7" stroke="#7a9dbe"/><line x1="63.2" y1="122.0" x2="67.3" y2="124.8" stroke="#98926d"/><line x1="67.3" y1="124.8" x2="71.4" y2="127.6" stroke="#98926d"/><line x1="63.2" y1="122.0" x2="59.5" y2="117.4" stroke="#98926d"/><line x1="59.5" y1="117.4" x2="55.9" y2="112.8" stroke="#7a9dbe"/><line x1="55.9" y1="112.8" x2="59.4" y2="111.2" stroke="#7a9dbe"/><line x1="59.4" y1="111.2" x2="62.9" y2="109.6" stroke="#98926d"/><line x1="55.9" y1="112.8" x2="49.0" y2="114.0" stroke="#7a9dbe"/><line x1="49.0" y1="114.0" x2="42.1" y2="115.3" stroke="#98926d"/><line x1="55.9" y1="112.8" x2="56.3" y2="106.5" stroke="#7a9dbe"/><line x1="56.3" y1="106.5" x2="56.8" y2="100.3" stroke="#98926d"/><line x1="56.8" y1="100.3" x2="52.6" y2="95.9" stroke="#98926d"/><line x1="52.6" y1="95.9" x2="48.5" y2="91.5" stroke="#7a9dbe"/><line x1="56.8" y1="100.3" x2="63.1" y2="99.2" stroke="#98926d"/><line x1="63.1" y1="99.2" x2="69.4" y2="98.2" stroke="#7a9dbe"/><line x1="36.3" y1="95.5" x2="31.3" y2="90.7" stroke="#98926d"/><line x1="31.3" y1="90.7" x2="26.3" y2="85.9" stroke="#7a9dbe"/><line x1="36.3" y1="95.5" x2="42.4" y2="93.5" stroke="#98926d"/><line x1="42.4" y1="93.5" x2="48.5" y2="91.5" stroke="#7a9dbe"/><line x1="36.3" y1="95.5" x2="35.1" y2="101.2" stroke="#98926d"/><line x1="35.1" y1="101.2" x2="33.9" y2="107.0" stroke="#7a9dbe"/><line x1="43.6" y1="101.2" x2="38.8" y2="104.1" stroke="#98926d"/><line x1="38.8" y1="104.1" x2="33.9" y2="107.0" stroke="#7a9dbe"/><line x1="42.1" y1="115.3" x2="38.0" y2="111.2" stroke="#98926d"/><line x1="38.0" y1="111.2" x2="33.9" y2="107.0" stroke="#7a9dbe"/><line x1="42.1" y1="115.3" x2="41.5" y2="116.8" stroke="#98926d"/><line x1="41.5" y1="116.8" x2="41.0" y2="118.3" stroke="#7a9dbe"/><line x1="31.8" y1="116.7" x2="32.9" y2="111.8" stroke="#98926d"/><line x1="32.9" y1="111.8" x2="33.9" y2="107.0" stroke="#7a9dbe"/><line x1="31.8" y1="116.7" x2="36.4" y2="117.5" stroke="#98926d"/><line x1="36.4" y1="117.5" x2="41.0" y2="118.3" stroke="#7a9dbe"/><line x1="92.8" y1="91.2" x2="91.7" y2="97.2" stroke="#98926d"/><line x1="91.7" y1="97.2" x2="90.5" y2="103.2" stroke="#7a9dbe"/></g><circle cx="45.9" cy="57.6" r="3.3" fill="url(#ab_6890b6)"/><circle cx="58.0" cy="56.8" r="3.3" fill="url(#ab_6890b6)"/><circle cx="65.2" cy="65.5" r="3.3" fill="url(#ab_6890b6)"/><circle cx="80.5" cy="60.9" r="3.3" fill="url(#ab_6890b6)"/><circle cx="87.6" cy="70.6" r="3.3" fill="url(#ab_6890b6)"/><circle cx="42.7" cy="72.8" r="3.3" fill="url(#ab_6890b6)"/><circle cx="64.4" cy="77.0" r="3.3" fill="url(#ab_6890b6)"/><circle cx="83.5" cy="81.6" r="3.3" fill="url(#ab_6890b6)"/><circle cx="31.5" cy="75.6" r="3.3" fill="url(#ab_6890b6)"/><circle cx="26.3" cy="85.9" r="3.3" fill="url(#ab_6890b6)"/><circle cx="48.5" cy="91.5" r="3.3" fill="url(#ab_6890b6)"/><circle cx="69.4" cy="98.2" r="3.3" fill="url(#ab_6890b6)"/><circle cx="73.0" cy="87.6" r="3.3" fill="url(#ab_6890b6)"/><circle cx="95.5" cy="91.3" r="3.3" fill="url(#ab_6890b6)"/><circle cx="90.5" cy="103.2" r="3.3" fill="url(#ab_6890b6)"/><circle cx="33.9" cy="107.0" r="3.3" fill="url(#ab_6890b6)"/><circle cx="55.9" cy="112.8" r="3.3" fill="url(#ab_6890b6)"/><circle cx="75.3" cy="119.7" r="3.3" fill="url(#ab_6890b6)"/><circle cx="41.0" cy="118.3" r="3.3" fill="url(#ab_6890b6)"/><circle cx="78.5" cy="105.0" r="3.3" fill="url(#ab_6890b6)"/><circle cx="49.8" cy="49.4" r="2.3" fill="url(#as_8a845a)"/><circle cx="46.8" cy="60.2" r="2.3" fill="url(#as_8a845a)"/><circle cx="67.1" cy="64.4" r="2.3" fill="url(#as_8a845a)"/><circle cx="58.5" cy="68.4" r="2.3" fill="url(#as_8a845a)"/><circle cx="89.5" cy="59.7" r="2.3" fill="url(#as_8a845a)"/><circle cx="88.2" cy="70.3" r="2.3" fill="url(#as_8a845a)"/><circle cx="77.4" cy="76.7" r="2.3" fill="url(#as_8a845a)"/><circle cx="30.9" cy="74.6" r="2.3" fill="url(#as_8a845a)"/><circle cx="21.0" cy="78.6" r="2.3" fill="url(#as_8a845a)"/><circle cx="41.6" cy="80.3" r="2.3" fill="url(#as_8a845a)"/><circle cx="52.4" cy="80.3" r="2.3" fill="url(#as_8a845a)"/><circle cx="72.3" cy="86.5" r="2.3" fill="url(#as_8a845a)"/><circle cx="60.6" cy="89.2" r="2.3" fill="url(#as_8a845a)"/><circle cx="92.8" cy="91.2" r="2.3" fill="url(#as_8a845a)"/><circle cx="100.3" cy="99.5" r="2.3" fill="url(#as_8a845a)"/><circle cx="36.3" cy="95.5" r="2.3" fill="url(#as_8a845a)"/><circle cx="43.6" cy="101.2" r="2.3" fill="url(#as_8a845a)"/><circle cx="56.8" cy="100.3" r="2.3" fill="url(#as_8a845a)"/><circle cx="80.0" cy="97.4" r="2.3" fill="url(#as_8a845a)"/><circle cx="78.7" cy="107.1" r="2.3" fill="url(#as_8a845a)"/><circle cx="62.9" cy="109.6" r="2.3" fill="url(#as_8a845a)"/><circle cx="42.1" cy="115.3" r="2.3" fill="url(#as_8a845a)"/><circle cx="31.8" cy="116.7" r="2.3" fill="url(#as_8a845a)"/><circle cx="63.2" cy="122.0" r="2.3" fill="url(#as_8a845a)"/><circle cx="71.4" cy="127.6" r="2.3" fill="url(#as_8a845a)"/></g>
<rect x="93.6" y="136.3" width="47.0" height="4.6" fill="#000"/>
<text x="116.3" y="133.9" text-anchor="middle" class="sb" textLength="32.6" lengthAdjust="spacingAndGlyphs" stroke="#000" stroke-width="0.25">0.8 nm</text>
</g></g>
<text x="356.5" y="14.6" class="lbl">c</text>
<text x="441.4" y="10.2" text-anchor="middle" class="ttl" textLength="38.0" lengthAdjust="spacingAndGlyphs">Al<tspan class="sub" dy="3">2</tspan><tspan dy="-3">Te</tspan><tspan class="sub" dy="3">3</tspan></text>
<g transform="translate(539.8,13.6)">
<clipPath id="pcd"><rect x="0" y="0" width="145.2" height="143.9"/></clipPath>
<g clip-path="url(#pcd)"><use href="#stmbg" x="1.2"/>
<path d="M23.0,22.9 L101.0,22.9 L139.4,88.8 L61.4,88.8 Z" fill="none" stroke="#fff" stroke-width="2.4" stroke-linejoin="miter"/>
<g transform="translate(1.25,1.10)"><g stroke-width="1.8" stroke-linecap="butt"><line x1="49.8" y1="49.4" x2="47.8" y2="53.5" stroke="#d2d24c"/><line x1="47.8" y1="53.5" x2="45.9" y2="57.6" stroke="#81ab88"/><line x1="49.8" y1="49.4" x2="53.9" y2="53.1" stroke="#d2d24c"/><line x1="53.9" y1="53.1" x2="58.0" y2="56.8" stroke="#81ab88"/><line x1="46.8" y1="60.2" x2="52.4" y2="58.5" stroke="#d2d24c"/><line x1="52.4" y1="58.5" x2="58.0" y2="56.8" stroke="#81ab88"/><line x1="46.8" y1="60.2" x2="46.3" y2="58.9" stroke="#d2d24c"/><line x1="46.3" y1="58.9" x2="45.9" y2="57.6" stroke="#81ab88"/><line x1="58.0" y1="56.8" x2="62.5" y2="60.6" stroke="#81ab88"/><line x1="62.5" y1="60.6" x2="67.1" y2="64.4" stroke="#d2d24c"/><line x1="67.1" y1="64.4" x2="73.8" y2="62.7" stroke="#d2d24c"/><line x1="73.8" y1="62.7" x2="80.5" y2="60.9" stroke="#81ab88"/><line x1="80.5" y1="60.9" x2="85.0" y2="60.3" stroke="#81ab88"/><line x1="85.0" y1="60.3" x2="89.5" y2="59.7" stroke="#d2d24c"/><line x1="80.5" y1="60.9" x2="84.3" y2="65.6" stroke="#81ab88"/><line x1="84.3" y1="65.6" x2="88.2" y2="70.3" stroke="#d2d24c"/><line x1="89.5" y1="59.7" x2="88.5" y2="65.2" stroke="#d2d24c"/><line x1="88.5" y1="65.2" x2="87.6" y2="70.6" stroke="#81ab88"/><line x1="88.2" y1="70.3" x2="87.9" y2="70.4" stroke="#d2d24c"/><line x1="87.9" y1="70.4" x2="87.6" y2="70.6" stroke="#81ab88"/><line x1="65.2" y1="65.5" x2="61.9" y2="67.0" stroke="#81ab88"/><line x1="61.9" y1="67.0" x2="58.5" y2="68.4" stroke="#d2d24c"/><line x1="67.1" y1="64.4" x2="66.2" y2="65.0" stroke="#d2d24c"/><line x1="66.2" y1="65.0" x2="65.2" y2="65.5" stroke="#81ab88"/><line x1="67.1" y1="64.4" x2="65.8" y2="70.7" stroke="#d2d24c"/><line x1="65.8" y1="70.7" x2="64.4" y2="77.0" stroke="#81ab88"/><line x1="64.4" y1="77.0" x2="58.4" y2="78.7" stroke="#81ab88"/><line x1="58.4" y1="78.7" x2="52.4" y2="80.3" stroke="#d2d24c"/><line x1="64.4" y1="77.0" x2="68.3" y2="81.8" stroke="#81ab88"/><line x1="68.3" y1="81.8" x2="72.3" y2="86.5" stroke="#d2d24c"/><line x1="83.5" y1="81.6" x2="80.5" y2="79.2" stroke="#81ab88"/><line x1="80.5" y1="79.2" x2="77.4" y2="76.7" stroke="#d2d24c"/><line x1="83.5" y1="81.6" x2="77.9" y2="84.0" stroke="#81ab88"/><line x1="77.9" y1="84.0" x2="72.3" y2="86.5" stroke="#d2d24c"/><line x1="83.5" y1="81.6" x2="88.2" y2="86.4" stroke="#81ab88"/><line x1="88.2" y1="86.4" x2="92.8" y2="91.2" stroke="#d2d24c"/><line x1="88.2" y1="70.3" x2="85.8" y2="75.9" stroke="#d2d24c"/><line x1="85.8" y1="75.9" x2="83.5" y2="81.6" stroke="#81ab88"/><line x1="42.7" y1="72.8" x2="47.5" y2="76.5" stroke="#81ab88"/><line x1="47.5" y1="76.5" x2="52.4" y2="80.3" stroke="#d2d24c"/><line x1="42.7" y1="72.8" x2="42.2" y2="76.5" stroke="#81ab88"/><line x1="42.2" y1="76.5" x2="41.6" y2="80.3" stroke="#d2d24c"/><line x1="42.7" y1="72.8" x2="44.8" y2="66.5" stroke="#81ab88"/><line x1="44.8" y1="66.5" x2="46.8" y2="60.2" stroke="#d2d24c"/><line x1="30.9" y1="74.6" x2="36.8" y2="73.7" stroke="#d2d24c"/><line x1="36.8" y1="73.7" x2="42.7" y2="72.8" stroke="#81ab88"/><line x1="21.0" y1="78.6" x2="25.9" y2="76.6" stroke="#d2d24c"/><line x1="25.9" y1="76.6" x2="30.9" y2="74.6" stroke="#d2d24c"/><line x1="21.0" y1="78.6" x2="23.6" y2="82.2" stroke="#d2d24c"/><line x1="23.6" y1="82.2" x2="26.3" y2="85.9" stroke="#81ab88"/><line x1="31.5" y1="75.6" x2="28.9" y2="80.8" stroke="#81ab88"/><line x1="28.9" y1="80.8" x2="26.3" y2="85.9" stroke="#81ab88"/><line x1="30.9" y1="74.6" x2="31.2" y2="75.1" stroke="#d2d24c"/><line x1="31.2" y1="75.1" x2="31.5" y2="75.6" stroke="#81ab88"/><line x1="52.4" y1="80.3" x2="50.5" y2="85.9" stroke="#d2d24c"/><line x1="50.5" y1="85.9" x2="48.5" y2="91.5" stroke="#81ab88"/><line x1="60.6" y1="89.2" x2="62.5" y2="83.1" stroke="#d2d24c"/><line x1="62.5" y1="83.1" x2="64.4" y2="77.0" stroke="#81ab88"/><line x1="69.4" y1="98.2" x2="70.8" y2="92.3" stroke="#81ab88"/><line x1="70.8" y1="92.3" x2="72.3" y2="86.5" stroke="#d2d24c"/><line x1="72.3" y1="86.5" x2="72.7" y2="87.0" stroke="#d2d24c"/><line x1="72.7" y1="87.0" x2="73.0" y2="87.6" stroke="#81ab88"/><line x1="69.4" y1="98.2" x2="74.1" y2="102.7" stroke="#81ab88"/><line x1="74.1" y1="102.7" x2="78.7" y2="107.1" stroke="#d2d24c"/><line x1="80.0" y1="97.4" x2="79.2" y2="101.2" stroke="#d2d24c"/><line x1="79.2" y1="101.2" x2="78.5" y2="105.0" stroke="#81ab88"/><line x1="78.7" y1="107.1" x2="84.6" y2="105.2" stroke="#d2d24c"/><line x1="84.6" y1="105.2" x2="90.5" y2="103.2" stroke="#81ab88"/><line x1="90.5" y1="103.2" x2="95.4" y2="101.3" stroke="#81ab88"/><line x1="95.4" y1="101.3" x2="100.3" y2="99.5" stroke="#d2d24c"/><line x1="100.3" y1="99.5" x2="97.9" y2="95.4" stroke="#d2d24c"/><line x1="97.9" y1="95.4" x2="95.5" y2="91.3" stroke="#81ab88"/><line x1="95.5" y1="91.3" x2="94.2" y2="91.2" stroke="#81ab88"/><line x1="94.2" y1="91.2" x2="92.8" y2="91.2" stroke="#d2d24c"/><line x1="78.7" y1="107.1" x2="77.0" y2="113.4" stroke="#d2d24c"/><line x1="77.0" y1="113.4" x2="75.3" y2="119.7" stroke="#81ab88"/><line x1="75.3" y1="119.7" x2="73.3" y2="123.7" stroke="#81ab88"/><line x1="73.3" y1="123.7" x2="71.4" y2="127.6" stroke="#d2d24c"/><line x1="63.2" y1="122.0" x2="69.2" y2="120.8" stroke="#d2d24c"/><line x1="69.2" y1="120.8" x2="75.3" y2="119.7" stroke="#81ab88"/><line x1="63.2" y1="122.0" x2="67.3" y2="124.8" stroke="#d2d24c"/><line x1="67.3" y1="124.8" x2="71.4" y2="127.6" stroke="#d2d24c"/><line x1="63.2" y1="122.0" x2="59.5" y2="117.4" stroke="#d2d24c"/><line x1="59.5" y1="117.4" x2="55.9" y2="112.8" stroke="#81ab88"/><line x1="55.9" y1="112.8" x2="59.4" y2="111.2" stroke="#81ab88"/><line x1="59.4" y1="111.2" x2="62.9" y2="109.6" stroke="#d2d24c"/><line x1="55.9" y1="112.8" x2="49.0" y2="114.0" stroke="#81ab88"/><line x1="49.0" y1="114.0" x2="42.1" y2="115.3" stroke="#d2d24c"/><line x1="55.9" y1="112.8" x2="56.3" y2="106.5" stroke="#81ab88"/><line x1="56.3" y1="106.5" x2="56.8" y2="100.3" stroke="#d2d24c"/><line x1="56.8" y1="100.3" x2="52.6" y2="95.9" stroke="#d2d24c"/><line x1="52.6" y1="95.9" x2="48.5" y2="91.5" stroke="#81ab88"/><line x1="56.8" y1="100.3" x2="63.1" y2="99.2" stroke="#d2d24c"/><line x1="63.1" y1="99.2" x2="69.4" y2="98.2" stroke="#81ab88"/><line x1="36.3" y1="95.5" x2="31.3" y2="90.7" stroke="#d2d24c"/><line x1="31.3" y1="90.7" x2="26.3" y2="85.9" stroke="#81ab88"/><line x1="36.3" y1="95.5" x2="42.4" y2="93.5" stroke="#d2d24c"/><line x1="42.4" y1="93.5" x2="48.5" y2="91.5" stroke="#81ab88"/><line x1="36.3" y1="95.5" x2="35.1" y2="101.2" stroke="#d2d24c"/><line x1="35.1" y1="101.2" x2="33.9" y2="107.0" stroke="#81ab88"/><line x1="43.6" y1="101.2" x2="38.8" y2="104.1" stroke="#d2d24c"/><line x1="38.8" y1="104.1" x2="33.9" y2="107.0" stroke="#81ab88"/><line x1="42.1" y1="115.3" x2="38.0" y2="111.2" stroke="#d2d24c"/><line x1="38.0" y1="111.2" x2="33.9" y2="107.0" stroke="#81ab88"/><line x1="42.1" y1="115.3" x2="41.5" y2="116.8" stroke="#d2d24c"/><line x1="41.5" y1="116.8" x2="41.0" y2="118.3" stroke="#81ab88"/><line x1="31.8" y1="116.7" x2="32.9" y2="111.8" stroke="#d2d24c"/><line x1="32.9" y1="111.8" x2="33.9" y2="107.0" stroke="#81ab88"/><line x1="31.8" y1="116.7" x2="36.4" y2="117.5" stroke="#d2d24c"/><line x1="36.4" y1="117.5" x2="41.0" y2="118.3" stroke="#81ab88"/><line x1="92.8" y1="91.2" x2="91.7" y2="97.2" stroke="#d2d24c"/><line x1="91.7" y1="97.2" x2="90.5" y2="103.2" stroke="#81ab88"/></g><circle cx="45.9" cy="57.6" r="3.3" fill="url(#ab_70a078)"/><circle cx="58.0" cy="56.8" r="3.3" fill="url(#ab_70a078)"/><circle cx="65.2" cy="65.5" r="3.3" fill="url(#ab_70a078)"/><circle cx="80.5" cy="60.9" r="3.3" fill="url(#ab_70a078)"/><circle cx="87.6" cy="70.6" r="3.3" fill="url(#ab_70a078)"/><circle cx="42.7" cy="72.8" r="3.3" fill="url(#ab_70a078)"/><circle cx="64.4" cy="77.0" r="3.3" fill="url(#ab_70a078)"/><circle cx="83.5" cy="81.6" r="3.3" fill="url(#ab_70a078)"/><circle cx="31.5" cy="75.6" r="3.3" fill="url(#ab_70a078)"/><circle cx="26.3" cy="85.9" r="3.3" fill="url(#ab_70a078)"/><circle cx="48.5" cy="91.5" r="3.3" fill="url(#ab_70a078)"/><circle cx="69.4" cy="98.2" r="3.3" fill="url(#ab_70a078)"/><circle cx="73.0" cy="87.6" r="3.3" fill="url(#ab_70a078)"/><circle cx="95.5" cy="91.3" r="3.3" fill="url(#ab_70a078)"/><circle cx="90.5" cy="103.2" r="3.3" fill="url(#ab_70a078)"/><circle cx="33.9" cy="107.0" r="3.3" fill="url(#ab_70a078)"/><circle cx="55.9" cy="112.8" r="3.3" fill="url(#ab_70a078)"/><circle cx="75.3" cy="119.7" r="3.3" fill="url(#ab_70a078)"/><circle cx="41.0" cy="118.3" r="3.3" fill="url(#ab_70a078)"/><circle cx="78.5" cy="105.0" r="3.3" fill="url(#ab_70a078)"/><circle cx="49.8" cy="49.4" r="2.3" fill="url(#as_cccc34)"/><circle cx="46.8" cy="60.2" r="2.3" fill="url(#as_cccc34)"/><circle cx="67.1" cy="64.4" r="2.3" fill="url(#as_cccc34)"/><circle cx="58.5" cy="68.4" r="2.3" fill="url(#as_cccc34)"/><circle cx="89.5" cy="59.7" r="2.3" fill="url(#as_cccc34)"/><circle cx="88.2" cy="70.3" r="2.3" fill="url(#as_cccc34)"/><circle cx="77.4" cy="76.7" r="2.3" fill="url(#as_cccc34)"/><circle cx="30.9" cy="74.6" r="2.3" fill="url(#as_cccc34)"/><circle cx="21.0" cy="78.6" r="2.3" fill="url(#as_cccc34)"/><circle cx="41.6" cy="80.3" r="2.3" fill="url(#as_cccc34)"/><circle cx="52.4" cy="80.3" r="2.3" fill="url(#as_cccc34)"/><circle cx="72.3" cy="86.5" r="2.3" fill="url(#as_cccc34)"/><circle cx="60.6" cy="89.2" r="2.3" fill="url(#as_cccc34)"/><circle cx="92.8" cy="91.2" r="2.3" fill="url(#as_cccc34)"/><circle cx="100.3" cy="99.5" r="2.3" fill="url(#as_cccc34)"/><circle cx="36.3" cy="95.5" r="2.3" fill="url(#as_cccc34)"/><circle cx="43.6" cy="101.2" r="2.3" fill="url(#as_cccc34)"/><circle cx="56.8" cy="100.3" r="2.3" fill="url(#as_cccc34)"/><circle cx="80.0" cy="97.4" r="2.3" fill="url(#as_cccc34)"/><circle cx="78.7" cy="107.1" r="2.3" fill="url(#as_cccc34)"/><circle cx="62.9" cy="109.6" r="2.3" fill="url(#as_cccc34)"/><circle cx="42.1" cy="115.3" r="2.3" fill="url(#as_cccc34)"/><circle cx="31.8" cy="116.7" r="2.3" fill="url(#as_cccc34)"/><circle cx="63.2" cy="122.0" r="2.3" fill="url(#as_cccc34)"/><circle cx="71.4" cy="127.6" r="2.3" fill="url(#as_cccc34)"/></g>
<rect x="99.3" y="136.3" width="41.6" height="4.6" fill="#000"/>
<text x="118.8" y="133.9" text-anchor="middle" class="sb" textLength="32.6" lengthAdjust="spacingAndGlyphs" stroke="#000" stroke-width="0.25">0.8 nm</text>
</g></g>
<text x="526.4" y="14.6" class="lbl">d</text>
<text x="612.6" y="10.2" text-anchor="middle" class="ttl" textLength="34.8" lengthAdjust="spacingAndGlyphs">Ga<tspan class="sub" dy="3">2</tspan><tspan dy="-3">S</tspan><tspan class="sub" dy="3">3</tspan></text>
<g transform="translate(25.5,188.0)">
<clipPath id="pce"><rect x="0" y="0" width="146.5" height="143.8"/></clipPath>
<g clip-path="url(#pce)"><use href="#stmbg" x="0.0"/>
<path d="M21.7,20.9 L99.7,20.9 L138.1,86.8 L60.1,86.8 Z" fill="none" stroke="#fff" stroke-width="2.4" stroke-linejoin="miter"/>
<g transform="translate(0.00,-0.50)"><g stroke-width="1.8" stroke-linecap="butt"><line x1="49.8" y1="49.4" x2="47.8" y2="53.5" stroke="#ab3a5a"/><line x1="47.8" y1="53.5" x2="45.9" y2="57.6" stroke="#89b584"/><line x1="49.8" y1="49.4" x2="53.9" y2="53.1" stroke="#ab3a5a"/><line x1="53.9" y1="53.1" x2="58.0" y2="56.8" stroke="#89b584"/><line x1="46.8" y1="60.2" x2="52.4" y2="58.5" stroke="#ab3a5a"/><line x1="52.4" y1="58.5" x2="58.0" y2="56.8" stroke="#89b584"/><line x1="46.8" y1="60.2" x2="46.3" y2="58.9" stroke="#ab3a5a"/><line x1="46.3" y1="58.9" x2="45.9" y2="57.6" stroke="#89b584"/><line x1="58.0" y1="56.8" x2="62.5" y2="60.6" stroke="#89b584"/><line x1="62.5" y1="60.6" x2="67.1" y2="64.4" stroke="#ab3a5a"/><line x1="67.1" y1="64.4" x2="73.8" y2="62.7" stroke="#ab3a5a"/><line x1="73.8" y1="62.7" x2="80.5" y2="60.9" stroke="#89b584"/><line x1="80.5" y1="60.9" x2="85.0" y2="60.3" stroke="#89b584"/><line x1="85.0" y1="60.3" x2="89.5" y2="59.7" stroke="#ab3a5a"/><line x1="80.5" y1="60.9" x2="84.3" y2="65.6" stroke="#89b584"/><line x1="84.3" y1="65.6" x2="88.2" y2="70.3" stroke="#ab3a5a"/><line x1="89.5" y1="59.7" x2="88.5" y2="65.2" stroke="#ab3a5a"/><line x1="88.5" y1="65.2" x2="87.6" y2="70.6" stroke="#89b584"/><line x1="88.2" y1="70.3" x2="87.9" y2="70.4" stroke="#ab3a5a"/><line x1="87.9" y1="70.4" x2="87.6" y2="70.6" stroke="#89b584"/><line x1="65.2" y1="65.5" x2="61.9" y2="67.0" stroke="#89b584"/><line x1="61.9" y1="67.0" x2="58.5" y2="68.4" stroke="#ab3a5a"/><line x1="67.1" y1="64.4" x2="66.2" y2="65.0" stroke="#ab3a5a"/><line x1="66.2" y1="65.0" x2="65.2" y2="65.5" stroke="#89b584"/><line x1="67.1" y1="64.4" x2="65.8" y2="70.7" stroke="#ab3a5a"/><line x1="65.8" y1="70.7" x2="64.4" y2="77.0" stroke="#89b584"/><line x1="64.4" y1="77.0" x2="58.4" y2="78.7" stroke="#89b584"/><line x1="58.4" y1="78.7" x2="52.4" y2="80.3" stroke="#ab3a5a"/><line x1="64.4" y1="77.0" x2="68.3" y2="81.8" stroke="#89b584"/><line x1="68.3" y1="81.8" x2="72.3" y2="86.5" stroke="#ab3a5a"/><line x1="83.5" y1="81.6" x2="80.5" y2="79.2" stroke="#89b584"/><line x1="80.5" y1="79.2" x2="77.4" y2="76.7" stroke="#ab3a5a"/><line x1="83.5" y1="81.6" x2="77.9" y2="84.0" stroke="#89b584"/><line x1="77.9" y1="84.0" x2="72.3" y2="86.5" stroke="#ab3a5a"/><line x1="83.5" y1="81.6" x2="88.2" y2="86.4" stroke="#89b584"/><line x1="88.2" y1="86.4" x2="92.8" y2="91.2" stroke="#ab3a5a"/><line x1="88.2" y1="70.3" x2="85.8" y2="75.9" stroke="#ab3a5a"/><line x1="85.8" y1="75.9" x2="83.5" y2="81.6" stroke="#89b584"/><line x1="42.7" y1="72.8" x2="47.5" y2="76.5" stroke="#89b584"/><line x1="47.5" y1="76.5" x2="52.4" y2="80.3" stroke="#ab3a5a"/><line x1="42.7" y1="72.8" x2="42.2" y2="76.5" stroke="#89b584"/><line x1="42.2" y1="76.5" x2="41.6" y2="80.3" stroke="#ab3a5a"/><line x1="42.7" y1="72.8" x2="44.8" y2="66.5" stroke="#89b584"/><line x1="44.8" y1="66.5" x2="46.8" y2="60.2" stroke="#ab3a5a"/><line x1="30.9" y1="74.6" x2="36.8" y2="73.7" stroke="#ab3a5a"/><line x1="36.8" y1="73.7" x2="42.7" y2="72.8" stroke="#89b584"/><line x1="21.0" y1="78.6" x2="25.9" y2="76.6" stroke="#ab3a5a"/><line x1="25.9" y1="76.6" x2="30.9" y2="74.6" stroke="#ab3a5a"/><line x1="21.0" y1="78.6" x2="23.6" y2="82.2" stroke="#ab3a5a"/><line x1="23.6" y1="82.2" x2="26.3" y2="85.9" stroke="#89b584"/><line x1="31.5" y1="75.6" x2="28.9" y2="80.8" stroke="#89b584"/><line x1="28.9" y1="80.8" x2="26.3" y2="85.9" stroke="#89b584"/><line x1="30.9" y1="74.6" x2="31.2" y2="75.1" stroke="#ab3a5a"/><line x1="31.2" y1="75.1" x2="31.5" y2="75.6" stroke="#89b584"/><line x1="52.4" y1="80.3" x2="50.5" y2="85.9" stroke="#ab3a5a"/><line x1="50.5" y1="85.9" x2="48.5" y2="91.5" stroke="#89b584"/><line x1="60.6" y1="89.2" x2="62.5" y2="83.1" stroke="#ab3a5a"/><line x1="62.5" y1="83.1" x2="64.4" y2="77.0" stroke="#89b584"/><line x1="69.4" y1="98.2" x2="70.8" y2="92.3" stroke="#89b584"/><line x1="70.8" y1="92.3" x2="72.3" y2="86.5" stroke="#ab3a5a"/><line x1="72.3" y1="86.5" x2="72.7" y2="87.0" stroke="#ab3a5a"/><line x1="72.7" y1="87.0" x2="73.0" y2="87.6" stroke="#89b584"/><line x1="69.4" y1="98.2" x2="74.1" y2="102.7" stroke="#89b584"/><line x1="74.1" y1="102.7" x2="78.7" y2="107.1" stroke="#ab3a5a"/><line x1="80.0" y1="97.4" x2="79.2" y2="101.2" stroke="#ab3a5a"/><line x1="79.2" y1="101.2" x2="78.5" y2="105.0" stroke="#89b584"/><line x1="78.7" y1="107.1" x2="84.6" y2="105.2" stroke="#ab3a5a"/><line x1="84.6" y1="105.2" x2="90.5" y2="103.2" stroke="#89b584"/><line x1="90.5" y1="103.2" x2="95.4" y2="101.3" stroke="#89b584"/><line x1="95.4" y1="101.3" x2="100.3" y2="99.5" stroke="#ab3a5a"/><line x1="100.3" y1="99.5" x2="97.9" y2="95.4" stroke="#ab3a5a"/><line x1="97.9" y1="95.4" x2="95.5" y2="91.3" stroke="#89b584"/><line x1="95.5" y1="91.3" x2="94.2" y2="91.2" stroke="#89b584"/><line x1="94.2" y1="91.2" x2="92.8" y2="91.2" stroke="#ab3a5a"/><line x1="78.7" y1="107.1" x2="77.0" y2="113.4" stroke="#ab3a5a"/><line x1="77.0" y1="113.4" x2="75.3" y2="119.7" stroke="#89b584"/><line x1="75.3" y1="119.7" x2="73.3" y2="123.7" stroke="#89b584"/><line x1="73.3" y1="123.7" x2="71.4" y2="127.6" stroke="#ab3a5a"/><line x1="63.2" y1="122.0" x2="69.2" y2="120.8" stroke="#ab3a5a"/><line x1="69.2" y1="120.8" x2="75.3" y2="119.7" stroke="#89b584"/><line x1="63.2" y1="122.0" x2="67.3" y2="124.8" stroke="#ab3a5a"/><line x1="67.3" y1="124.8" x2="71.4" y2="127.6" stroke="#ab3a5a"/><line x1="63.2" y1="122.0" x2="59.5" y2="117.4" stroke="#ab3a5a"/><line x1="59.5" y1="117.4" x2="55.9" y2="112.8" stroke="#89b584"/><line x1="55.9" y1="112.8" x2="59.4" y2="111.2" stroke="#89b584"/><line x1="59.4" y1="111.2" x2="62.9" y2="109.6" stroke="#ab3a5a"/><line x1="55.9" y1="112.8" x2="49.0" y2="114.0" stroke="#89b584"/><line x1="49.0" y1="114.0" x2="42.1" y2="115.3" stroke="#ab3a5a"/><line x1="55.9" y1="112.8" x2="56.3" y2="106.5" stroke="#89b584"/><line x1="56.3" y1="106.5" x2="56.8" y2="100.3" stroke="#ab3a5a"/><line x1="56.8" y1="100.3" x2="52.6" y2="95.9" stroke="#ab3a5a"/><line x1="52.6" y1="95.9" x2="48.5" y2="91.5" stroke="#89b584"/><line x1="56.8" y1="100.3" x2="63.1" y2="99.2" stroke="#ab3a5a"/><line x1="63.1" y1="99.2" x2="69.4" y2="98.2" stroke="#89b584"/><line x1="36.3" y1="95.5" x2="31.3" y2="90.7" stroke="#ab3a5a"/><line x1="31.3" y1="90.7" x2="26.3" y2="85.9" stroke="#89b584"/><line x1="36.3" y1="95.5" x2="42.4" y2="93.5" stroke="#ab3a5a"/><line x1="42.4" y1="93.5" x2="48.5" y2="91.5" stroke="#89b584"/><line x1="36.3" y1="95.5" x2="35.1" y2="101.2" stroke="#ab3a5a"/><line x1="35.1" y1="101.2" x2="33.9" y2="107.0" stroke="#89b584"/><line x1="43.6" y1="101.2" x2="38.8" y2="104.1" stroke="#ab3a5a"/><line x1="38.8" y1="104.1" x2="33.9" y2="107.0" stroke="#89b584"/><line x1="42.1" y1="115.3" x2="38.0" y2="111.2" stroke="#ab3a5a"/><line x1="38.0" y1="111.2" x2="33.9" y2="107.0" stroke="#89b584"/><line x1="42.1" y1="115.3" x2="41.5" y2="116.8" stroke="#ab3a5a"/><line x1="41.5" y1="116.8" x2="41.0" y2="118.3" stroke="#89b584"/><line x1="31.8" y1="116.7" x2="32.9" y2="111.8" stroke="#ab3a5a"/><line x1="32.9" y1="111.8" x2="33.9" y2="107.0" stroke="#89b584"/><line x1="31.8" y1="116.7" x2="36.4" y2="117.5" stroke="#ab3a5a"/><line x1="36.4" y1="117.5" x2="41.0" y2="118.3" stroke="#89b584"/><line x1="92.8" y1="91.2" x2="91.7" y2="97.2" stroke="#ab3a5a"/><line x1="91.7" y1="97.2" x2="90.5" y2="103.2" stroke="#89b584"/><line x1="58.5" y1="68.4" x2="58.2" y2="62.6" stroke="#ab3a5a"/><line x1="58.2" y1="62.6" x2="58.0" y2="56.8" stroke="#89b584"/><line x1="58.5" y1="68.4" x2="61.5" y2="72.7" stroke="#ab3a5a"/><line x1="61.5" y1="72.7" x2="64.4" y2="77.0" stroke="#89b584"/><line x1="77.4" y1="76.7" x2="82.5" y2="73.7" stroke="#ab3a5a"/><line x1="82.5" y1="73.7" x2="87.6" y2="70.6" stroke="#89b584"/><line x1="77.4" y1="76.7" x2="70.9" y2="76.8" stroke="#ab3a5a"/><line x1="70.9" y1="76.8" x2="64.4" y2="77.0" stroke="#89b584"/><line x1="77.4" y1="76.7" x2="75.2" y2="82.2" stroke="#ab3a5a"/><line x1="75.2" y1="82.2" x2="73.0" y2="87.6" stroke="#89b584"/><line x1="30.9" y1="74.6" x2="28.6" y2="80.2" stroke="#ab3a5a"/><line x1="28.6" y1="80.2" x2="26.3" y2="85.9" stroke="#89b584"/><line x1="21.0" y1="78.6" x2="26.2" y2="77.1" stroke="#ab3a5a"/><line x1="26.2" y1="77.1" x2="31.5" y2="75.6" stroke="#89b584"/><line x1="41.6" y1="80.3" x2="36.5" y2="77.9" stroke="#ab3a5a"/><line x1="36.5" y1="77.9" x2="31.5" y2="75.6" stroke="#89b584"/><line x1="41.6" y1="80.3" x2="45.0" y2="85.9" stroke="#ab3a5a"/><line x1="45.0" y1="85.9" x2="48.5" y2="91.5" stroke="#89b584"/><line x1="60.6" y1="89.2" x2="54.5" y2="90.3" stroke="#ab3a5a"/><line x1="54.5" y1="90.3" x2="48.5" y2="91.5" stroke="#89b584"/><line x1="60.6" y1="89.2" x2="65.0" y2="93.7" stroke="#ab3a5a"/><line x1="65.0" y1="93.7" x2="69.4" y2="98.2" stroke="#89b584"/><line x1="60.6" y1="89.2" x2="66.8" y2="88.4" stroke="#ab3a5a"/><line x1="66.8" y1="88.4" x2="73.0" y2="87.6" stroke="#89b584"/><line x1="43.6" y1="101.2" x2="46.0" y2="96.3" stroke="#ab3a5a"/><line x1="46.0" y1="96.3" x2="48.5" y2="91.5" stroke="#89b584"/><line x1="80.0" y1="97.4" x2="74.7" y2="97.8" stroke="#ab3a5a"/><line x1="74.7" y1="97.8" x2="69.4" y2="98.2" stroke="#89b584"/><line x1="80.0" y1="97.4" x2="76.5" y2="92.5" stroke="#ab3a5a"/><line x1="76.5" y1="92.5" x2="73.0" y2="87.6" stroke="#89b584"/><line x1="80.0" y1="97.4" x2="85.2" y2="100.3" stroke="#ab3a5a"/><line x1="85.2" y1="100.3" x2="90.5" y2="103.2" stroke="#89b584"/><line x1="62.9" y1="109.6" x2="66.2" y2="103.9" stroke="#ab3a5a"/><line x1="66.2" y1="103.9" x2="69.4" y2="98.2" stroke="#89b584"/></g><circle cx="45.9" cy="57.6" r="3.3" fill="url(#ab_7aac74)"/><circle cx="58.0" cy="56.8" r="3.3" fill="url(#ab_7aac74)"/><circle cx="65.2" cy="65.5" r="3.3" fill="url(#ab_7aac74)"/><circle cx="80.5" cy="60.9" r="3.3" fill="url(#ab_7aac74)"/><circle cx="87.6" cy="70.6" r="3.3" fill="url(#ab_7aac74)"/><circle cx="42.7" cy="72.8" r="3.3" fill="url(#ab_7aac74)"/><circle cx="64.4" cy="77.0" r="3.3" fill="url(#ab_7aac74)"/><circle cx="83.5" cy="81.6" r="3.3" fill="url(#ab_7aac74)"/><circle cx="31.5" cy="75.6" r="3.3" fill="url(#ab_7aac74)"/><circle cx="26.3" cy="85.9" r="3.3" fill="url(#ab_7aac74)"/><circle cx="48.5" cy="91.5" r="3.3" fill="url(#ab_7aac74)"/><circle cx="69.4" cy="98.2" r="3.3" fill="url(#ab_7aac74)"/><circle cx="73.0" cy="87.6" r="3.3" fill="url(#ab_7aac74)"/><circle cx="95.5" cy="91.3" r="3.3" fill="url(#ab_7aac74)"/><circle cx="90.5" cy="103.2" r="3.3" fill="url(#ab_7aac74)"/><circle cx="33.9" cy="107.0" r="3.3" fill="url(#ab_7aac74)"/><circle cx="55.9" cy="112.8" r="3.3" fill="url(#ab_7aac74)"/><circle cx="75.3" cy="119.7" r="3.3" fill="url(#ab_7aac74)"/><circle cx="41.0" cy="118.3" r="3.3" fill="url(#ab_7aac74)"/><circle cx="78.5" cy="105.0" r="3.3" fill="url(#ab_7aac74)"/><circle cx="49.8" cy="49.4" r="2.3" fill="url(#as_a02044)"/><circle cx="46.8" cy="60.2" r="2.3" fill="url(#as_a02044)"/><circle cx="67.1" cy="64.4" r="2.3" fill="url(#as_a02044)"/><circle cx="58.5" cy="68.4" r="2.3" fill="url(#as_a02044)"/><circle cx="89.5" cy="59.7" r="2.3" fill="url(#as_a02044)"/><circle cx="88.2" cy="70.3" r="2.3" fill="url(#as_a02044)"/><circle cx="77.4" cy="76.7" r="2.3" fill="url(#as_a02044)"/><circle cx="30.9" cy="74.6" r="2.3" fill="url(#as_a02044)"/><circle cx="21.0" cy="78.6" r="2.3" fill="url(#as_a02044)"/><circle cx="41.6" cy="80.3" r="2.3" fill="url(#as_a02044)"/><circle cx="52.4" cy="80.3" r="2.3" fill="url(#as_a02044)"/><circle cx="72.3" cy="86.5" r="2.3" fill="url(#as_a02044)"/><circle cx="60.6" cy="89.2" r="2.3" fill="url(#as_a02044)"/><circle cx="92.8" cy="91.2" r="2.3" fill="url(#as_a02044)"/><circle cx="100.3" cy="99.5" r="2.3" fill="url(#as_a02044)"/><circle cx="36.3" cy="95.5" r="2.3" fill="url(#as_a02044)"/><circle cx="43.6" cy="101.2" r="2.3" fill="url(#as_a02044)"/><circle cx="56.8" cy="100.3" r="2.3" fill="url(#as_a02044)"/><circle cx="80.0" cy="97.4" r="2.3" fill="url(#as_a02044)"/><circle cx="78.7" cy="107.1" r="2.3" fill="url(#as_a02044)"/><circle cx="62.9" cy="109.6" r="2.3" fill="url(#as_a02044)"/><circle cx="42.1" cy="115.3" r="2.3" fill="url(#as_a02044)"/><circle cx="31.8" cy="116.7" r="2.3" fill="url(#as_a02044)"/><circle cx="63.2" cy="122.0" r="2.3" fill="url(#as_a02044)"/><circle cx="71.4" cy="127.6" r="2.3" fill="url(#as_a02044)"/></g>
<rect x="97.3" y="136.0" width="43.0" height="4.6" fill="#000"/>
<text x="119.3" y="133.6" text-anchor="middle" class="sb" textLength="32.6" lengthAdjust="spacingAndGlyphs" stroke="#000" stroke-width="0.25">0.8 nm</text>
</g></g>
<text x="12.3" y="185.6" class="lbl">e</text>
<text x="97.7" y="183.6" text-anchor="middle" class="ttl" textLength="41.8" lengthAdjust="spacingAndGlyphs">Ga<tspan class="sub" dy="3">2</tspan><tspan dy="-3">Se</tspan><tspan class="sub" dy="3">3</tspan></text>
<g transform="translate(198.1,188.0)">
<clipPath id="pcf"><rect x="0" y="0" width="145.3" height="143.8"/></clipPath>
<g clip-path="url(#pcf)"><use href="#stmbg" x="0.0"/>
<path d="M21.7,20.9 L99.7,20.9 L138.1,86.8 L60.1,86.8 Z" fill="none" stroke="#fff" stroke-width="2.4" stroke-linejoin="miter"/>
<g transform="translate(0.10,0.20)"><g stroke-width="1.8" stroke-linecap="butt"><line x1="49.8" y1="49.4" x2="47.8" y2="53.5" stroke="#7d7a5a"/><line x1="47.8" y1="53.5" x2="45.9" y2="57.6" stroke="#88b588"/><line x1="49.8" y1="49.4" x2="53.9" y2="53.1" stroke="#7d7a5a"/><line x1="53.9" y1="53.1" x2="58.0" y2="56.8" stroke="#88b588"/><line x1="46.8" y1="60.2" x2="52.4" y2="58.5" stroke="#7d7a5a"/><line x1="52.4" y1="58.5" x2="58.0" y2="56.8" stroke="#88b588"/><line x1="46.8" y1="60.2" x2="46.3" y2="58.9" stroke="#7d7a5a"/><line x1="46.3" y1="58.9" x2="45.9" y2="57.6" stroke="#88b588"/><line x1="58.0" y1="56.8" x2="62.5" y2="60.6" stroke="#88b588"/><line x1="62.5" y1="60.6" x2="67.1" y2="64.4" stroke="#7d7a5a"/><line x1="67.1" y1="64.4" x2="73.8" y2="62.7" stroke="#7d7a5a"/><line x1="73.8" y1="62.7" x2="80.5" y2="60.9" stroke="#88b588"/><line x1="80.5" y1="60.9" x2="85.0" y2="60.3" stroke="#88b588"/><line x1="85.0" y1="60.3" x2="89.5" y2="59.7" stroke="#7d7a5a"/><line x1="80.5" y1="60.9" x2="84.3" y2="65.6" stroke="#88b588"/><line x1="84.3" y1="65.6" x2="88.2" y2="70.3" stroke="#7d7a5a"/><line x1="89.5" y1="59.7" x2="88.5" y2="65.2" stroke="#7d7a5a"/><line x1="88.5" y1="65.2" x2="87.6" y2="70.6" stroke="#88b588"/><line x1="88.2" y1="70.3" x2="87.9" y2="70.4" stroke="#7d7a5a"/><line x1="87.9" y1="70.4" x2="87.6" y2="70.6" stroke="#88b588"/><line x1="65.2" y1="65.5" x2="61.9" y2="67.0" stroke="#88b588"/><line x1="61.9" y1="67.0" x2="58.5" y2="68.4" stroke="#7d7a5a"/><line x1="67.1" y1="64.4" x2="66.2" y2="65.0" stroke="#7d7a5a"/><line x1="66.2" y1="65.0" x2="65.2" y2="65.5" stroke="#88b588"/><line x1="67.1" y1="64.4" x2="65.8" y2="70.7" stroke="#7d7a5a"/><line x1="65.8" y1="70.7" x2="64.4" y2="77.0" stroke="#88b588"/><line x1="64.4" y1="77.0" x2="58.4" y2="78.7" stroke="#88b588"/><line x1="58.4" y1="78.7" x2="52.4" y2="80.3" stroke="#7d7a5a"/><line x1="64.4" y1="77.0" x2="68.3" y2="81.8" stroke="#88b588"/><line x1="68.3" y1="81.8" x2="72.3" y2="86.5" stroke="#7d7a5a"/><line x1="83.5" y1="81.6" x2="80.5" y2="79.2" stroke="#88b588"/><line x1="80.5" y1="79.2" x2="77.4" y2="76.7" stroke="#7d7a5a"/><line x1="83.5" y1="81.6" x2="77.9" y2="84.0" stroke="#88b588"/><line x1="77.9" y1="84.0" x2="72.3" y2="86.5" stroke="#7d7a5a"/><line x1="83.5" y1="81.6" x2="88.2" y2="86.4" stroke="#88b588"/><line x1="88.2" y1="86.4" x2="92.8" y2="91.2" stroke="#7d7a5a"/><line x1="88.2" y1="70.3" x2="85.8" y2="75.9" stroke="#7d7a5a"/><line x1="85.8" y1="75.9" x2="83.5" y2="81.6" stroke="#88b588"/><line x1="42.7" y1="72.8" x2="47.5" y2="76.5" stroke="#88b588"/><line x1="47.5" y1="76.5" x2="52.4" y2="80.3" stroke="#7d7a5a"/><line x1="42.7" y1="72.8" x2="42.2" y2="76.5" stroke="#88b588"/><line x1="42.2" y1="76.5" x2="41.6" y2="80.3" stroke="#7d7a5a"/><line x1="42.7" y1="72.8" x2="44.8" y2="66.5" stroke="#88b588"/><line x1="44.8" y1="66.5" x2="46.8" y2="60.2" stroke="#7d7a5a"/><line x1="30.9" y1="74.6" x2="36.8" y2="73.7" stroke="#7d7a5a"/><line x1="36.8" y1="73.7" x2="42.7" y2="72.8" stroke="#88b588"/><line x1="21.0" y1="78.6" x2="25.9" y2="76.6" stroke="#7d7a5a"/><line x1="25.9" y1="76.6" x2="30.9" y2="74.6" stroke="#7d7a5a"/><line x1="21.0" y1="78.6" x2="23.6" y2="82.2" stroke="#7d7a5a"/><line x1="23.6" y1="82.2" x2="26.3" y2="85.9" stroke="#88b588"/><line x1="31.5" y1="75.6" x2="28.9" y2="80.8" stroke="#88b588"/><line x1="28.9" y1="80.8" x2="26.3" y2="85.9" stroke="#88b588"/><line x1="30.9" y1="74.6" x2="31.2" y2="75.1" stroke="#7d7a5a"/><line x1="31.2" y1="75.1" x2="31.5" y2="75.6" stroke="#88b588"/><line x1="52.4" y1="80.3" x2="50.5" y2="85.9" stroke="#7d7a5a"/><line x1="50.5" y1="85.9" x2="48.5" y2="91.5" stroke="#88b588"/><line x1="60.6" y1="89.2" x2="62.5" y2="83.1" stroke="#7d7a5a"/><line x1="62.5" y1="83.1" x2="64.4" y2="77.0" stroke="#88b588"/><line x1="69.4" y1="98.2" x2="70.8" y2="92.3" stroke="#88b588"/><line x1="70.8" y1="92.3" x2="72.3" y2="86.5" stroke="#7d7a5a"/><line x1="72.3" y1="86.5" x2="72.7" y2="87.0" stroke="#7d7a5a"/><line x1="72.7" y1="87.0" x2="73.0" y2="87.6" stroke="#88b588"/><line x1="69.4" y1="98.2" x2="74.1" y2="102.7" stroke="#88b588"/><line x1="74.1" y1="102.7" x2="78.7" y2="107.1" stroke="#7d7a5a"/><line x1="80.0" y1="97.4" x2="79.2" y2="101.2" stroke="#7d7a5a"/><line x1="79.2" y1="101.2" x2="78.5" y2="105.0" stroke="#88b588"/><line x1="78.7" y1="107.1" x2="84.6" y2="105.2" stroke="#7d7a5a"/><line x1="84.6" y1="105.2" x2="90.5" y2="103.2" stroke="#88b588"/><line x1="90.5" y1="103.2" x2="95.4" y2="101.3" stroke="#88b588"/><line x1="95.4" y1="101.3" x2="100.3" y2="99.5" stroke="#7d7a5a"/><line x1="100.3" y1="99.5" x2="97.9" y2="95.4" stroke="#7d7a5a"/><line x1="97.9" y1="95.4" x2="95.5" y2="91.3" stroke="#88b588"/><line x1="95.5" y1="91.3" x2="94.2" y2="91.2" stroke="#88b588"/><line x1="94.2" y1="91.2" x2="92.8" y2="91.2" stroke="#7d7a5a"/><line x1="78.7" y1="107.1" x2="77.0" y2="113.4" stroke="#7d7a5a"/><line x1="77.0" y1="113.4" x2="75.3" y2="119.7" stroke="#88b588"/><line x1="75.3" y1="119.7" x2="73.3" y2="123.7" stroke="#88b588"/><line x1="73.3" y1="123.7" x2="71.4" y2="127.6" stroke="#7d7a5a"/><line x1="63.2" y1="122.0" x2="69.2" y2="120.8" stroke="#7d7a5a"/><line x1="69.2" y1="120.8" x2="75.3" y2="119.7" stroke="#88b588"/><line x1="63.2" y1="122.0" x2="67.3" y2="124.8" stroke="#7d7a5a"/><line x1="67.3" y1="124.8" x2="71.4" y2="127.6" stroke="#7d7a5a"/><line x1="63.2" y1="122.0" x2="59.5" y2="117.4" stroke="#7d7a5a"/><line x1="59.5" y1="117.4" x2="55.9" y2="112.8" stroke="#88b588"/><line x1="55.9" y1="112.8" x2="59.4" y2="111.2" stroke="#88b588"/><line x1="59.4" y1="111.2" x2="62.9" y2="109.6" stroke="#7d7a5a"/><line x1="55.9" y1="112.8" x2="49.0" y2="114.0" stroke="#88b588"/><line x1="49.0" y1="114.0" x2="42.1" y2="115.3" stroke="#7d7a5a"/><line x1="55.9" y1="112.8" x2="56.3" y2="106.5" stroke="#88b588"/><line x1="56.3" y1="106.5" x2="56.8" y2="100.3" stroke="#7d7a5a"/><line x1="56.8" y1="100.3" x2="52.6" y2="95.9" stroke="#7d7a5a"/><line x1="52.6" y1="95.9" x2="48.5" y2="91.5" stroke="#88b588"/><line x1="56.8" y1="100.3" x2="63.1" y2="99.2" stroke="#7d7a5a"/><line x1="63.1" y1="99.2" x2="69.4" y2="98.2" stroke="#88b588"/><line x1="36.3" y1="95.5" x2="31.3" y2="90.7" stroke="#7d7a5a"/><line x1="31.3" y1="90.7" x2="26.3" y2="85.9" stroke="#88b588"/><line x1="36.3" y1="95.5" x2="42.4" y2="93.5" stroke="#7d7a5a"/><line x1="42.4" y1="93.5" x2="48.5" y2="91.5" stroke="#88b588"/><line x1="36.3" y1="95.5" x2="35.1" y2="101.2" stroke="#7d7a5a"/><line x1="35.1" y1="101.2" x2="33.9" y2="107.0" stroke="#88b588"/><line x1="43.6" y1="101.2" x2="38.8" y2="104.1" stroke="#7d7a5a"/><line x1="38.8" y1="104.1" x2="33.9" y2="107.0" stroke="#88b588"/><line x1="42.1" y1="115.3" x2="38.0" y2="111.2" stroke="#7d7a5a"/><line x1="38.0" y1="111.2" x2="33.9" y2="107.0" stroke="#88b588"/><line x1="42.1" y1="115.3" x2="41.5" y2="116.8" stroke="#7d7a5a"/><line x1="41.5" y1="116.8" x2="41.0" y2="118.3" stroke="#88b588"/><line x1="31.8" y1="116.7" x2="32.9" y2="111.8" stroke="#7d7a5a"/><line x1="32.9" y1="111.8" x2="33.9" y2="107.0" stroke="#88b588"/><line x1="31.8" y1="116.7" x2="36.4" y2="117.5" stroke="#7d7a5a"/><line x1="36.4" y1="117.5" x2="41.0" y2="118.3" stroke="#88b588"/><line x1="92.8" y1="91.2" x2="91.7" y2="97.2" stroke="#7d7a5a"/><line x1="91.7" y1="97.2" x2="90.5" y2="103.2" stroke="#88b588"/></g><circle cx="45.9" cy="57.6" r="3.3" fill="url(#ab_78ac78)"/><circle cx="58.0" cy="56.8" r="3.3" fill="url(#ab_78ac78)"/><circle cx="65.2" cy="65.5" r="3.3" fill="url(#ab_78ac78)"/><circle cx="80.5" cy="60.9" r="3.3" fill="url(#ab_78ac78)"/><circle cx="87.6" cy="70.6" r="3.3" fill="url(#ab_78ac78)"/><circle cx="42.7" cy="72.8" r="3.3" fill="url(#ab_78ac78)"/><circle cx="64.4" cy="77.0" r="3.3" fill="url(#ab_78ac78)"/><circle cx="83.5" cy="81.6" r="3.3" fill="url(#ab_78ac78)"/><circle cx="31.5" cy="75.6" r="3.3" fill="url(#ab_78ac78)"/><circle cx="26.3" cy="85.9" r="3.3" fill="url(#ab_78ac78)"/><circle cx="48.5" cy="91.5" r="3.3" fill="url(#ab_78ac78)"/><circle cx="69.4" cy="98.2" r="3.3" fill="url(#ab_78ac78)"/><circle cx="73.0" cy="87.6" r="3.3" fill="url(#ab_78ac78)"/><circle cx="95.5" cy="91.3" r="3.3" fill="url(#ab_78ac78)"/><circle cx="90.5" cy="103.2" r="3.3" fill="url(#ab_78ac78)"/><circle cx="33.9" cy="107.0" r="3.3" fill="url(#ab_78ac78)"/><circle cx="55.9" cy="112.8" r="3.3" fill="url(#ab_78ac78)"/><circle cx="75.3" cy="119.7" r="3.3" fill="url(#ab_78ac78)"/><circle cx="41.0" cy="118.3" r="3.3" fill="url(#ab_78ac78)"/><circle cx="78.5" cy="105.0" r="3.3" fill="url(#ab_78ac78)"/><circle cx="49.8" cy="49.4" r="2.3" fill="url(#as_6c6844)"/><circle cx="46.8" cy="60.2" r="2.3" fill="url(#as_6c6844)"/><circle cx="67.1" cy="64.4" r="2.3" fill="url(#as_6c6844)"/><circle cx="58.5" cy="68.4" r="2.3" fill="url(#as_6c6844)"/><circle cx="89.5" cy="59.7" r="2.3" fill="url(#as_6c6844)"/><circle cx="88.2" cy="70.3" r="2.3" fill="url(#as_6c6844)"/><circle cx="77.4" cy="76.7" r="2.3" fill="url(#as_6c6844)"/><circle cx="30.9" cy="74.6" r="2.3" fill="url(#as_6c6844)"/><circle cx="21.0" cy="78.6" r="2.3" fill="url(#as_6c6844)"/><circle cx="41.6" cy="80.3" r="2.3" fill="url(#as_6c6844)"/><circle cx="52.4" cy="80.3" r="2.3" fill="url(#as_6c6844)"/><circle cx="72.3" cy="86.5" r="2.3" fill="url(#as_6c6844)"/><circle cx="60.6" cy="89.2" r="2.3" fill="url(#as_6c6844)"/><circle cx="92.8" cy="91.2" r="2.3" fill="url(#as_6c6844)"/><circle cx="100.3" cy="99.5" r="2.3" fill="url(#as_6c6844)"/><circle cx="36.3" cy="95.5" r="2.3" fill="url(#as_6c6844)"/><circle cx="43.6" cy="101.2" r="2.3" fill="url(#as_6c6844)"/><circle cx="56.8" cy="100.3" r="2.3" fill="url(#as_6c6844)"/><circle cx="80.0" cy="97.4" r="2.3" fill="url(#as_6c6844)"/><circle cx="78.7" cy="107.1" r="2.3" fill="url(#as_6c6844)"/><circle cx="62.9" cy="109.6" r="2.3" fill="url(#as_6c6844)"/><circle cx="42.1" cy="115.3" r="2.3" fill="url(#as_6c6844)"/><circle cx="31.8" cy="116.7" r="2.3" fill="url(#as_6c6844)"/><circle cx="63.2" cy="122.0" r="2.3" fill="url(#as_6c6844)"/><circle cx="71.4" cy="127.6" r="2.3" fill="url(#as_6c6844)"/></g>
<rect x="95.1" y="136.0" width="47.7" height="4.6" fill="#000"/>
<text x="117.3" y="133.6" text-anchor="middle" class="sb" textLength="32.6" lengthAdjust="spacingAndGlyphs" stroke="#000" stroke-width="0.25">0.8 nm</text>
</g></g>
<text x="184.1" y="185.6" class="lbl">f</text>
<text x="270.9" y="183.6" text-anchor="middle" class="ttl" textLength="41.9" lengthAdjust="spacingAndGlyphs">Ga<tspan class="sub" dy="3">2</tspan><tspan dy="-3">Te</tspan><tspan class="sub" dy="3">3</tspan></text>
<g transform="translate(369.0,188.0)">
<clipPath id="pcg"><rect x="0" y="0" width="144.5" height="143.0"/></clipPath>
<g clip-path="url(#pcg)"><use href="#stmbg" x="0.0"/>
<path d="M21.7,20.9 L99.7,20.9 L138.1,86.8 L60.1,86.8 Z" fill="none" stroke="#fff" stroke-width="2.4" stroke-linejoin="miter"/>
<g transform="translate(-0.50,-0.60)"><g stroke-width="1.8" stroke-linecap="butt"><line x1="49.8" y1="49.4" x2="47.8" y2="53.5" stroke="#cece45"/><line x1="47.8" y1="53.5" x2="45.9" y2="57.6" stroke="#53565d"/><line x1="49.8" y1="49.4" x2="53.9" y2="53.1" stroke="#cece45"/><line x1="53.9" y1="53.1" x2="58.0" y2="56.8" stroke="#53565d"/><line x1="46.8" y1="60.2" x2="52.4" y2="58.5" stroke="#cece45"/><line x1="52.4" y1="58.5" x2="58.0" y2="56.8" stroke="#53565d"/><line x1="46.8" y1="60.2" x2="46.3" y2="58.9" stroke="#cece45"/><line x1="46.3" y1="58.9" x2="45.9" y2="57.6" stroke="#53565d"/><line x1="58.0" y1="56.8" x2="62.5" y2="60.6" stroke="#53565d"/><line x1="62.5" y1="60.6" x2="67.1" y2="64.4" stroke="#cece45"/><line x1="67.1" y1="64.4" x2="73.8" y2="62.7" stroke="#cece45"/><line x1="73.8" y1="62.7" x2="80.5" y2="60.9" stroke="#53565d"/><line x1="80.5" y1="60.9" x2="85.0" y2="60.3" stroke="#53565d"/><line x1="85.0" y1="60.3" x2="89.5" y2="59.7" stroke="#cece45"/><line x1="80.5" y1="60.9" x2="84.3" y2="65.6" stroke="#53565d"/><line x1="84.3" y1="65.6" x2="88.2" y2="70.3" stroke="#cece45"/><line x1="89.5" y1="59.7" x2="88.5" y2="65.2" stroke="#cece45"/><line x1="88.5" y1="65.2" x2="87.6" y2="70.6" stroke="#53565d"/><line x1="88.2" y1="70.3" x2="87.9" y2="70.4" stroke="#cece45"/><line x1="87.9" y1="70.4" x2="87.6" y2="70.6" stroke="#53565d"/><line x1="65.2" y1="65.5" x2="61.9" y2="67.0" stroke="#53565d"/><line x1="61.9" y1="67.0" x2="58.5" y2="68.4" stroke="#cece45"/><line x1="67.1" y1="64.4" x2="66.2" y2="65.0" stroke="#cece45"/><line x1="66.2" y1="65.0" x2="65.2" y2="65.5" stroke="#53565d"/><line x1="67.1" y1="64.4" x2="65.8" y2="70.7" stroke="#cece45"/><line x1="65.8" y1="70.7" x2="64.4" y2="77.0" stroke="#53565d"/><line x1="64.4" y1="77.0" x2="58.4" y2="78.7" stroke="#53565d"/><line x1="58.4" y1="78.7" x2="52.4" y2="80.3" stroke="#cece45"/><line x1="64.4" y1="77.0" x2="68.3" y2="81.8" stroke="#53565d"/><line x1="68.3" y1="81.8" x2="72.3" y2="86.5" stroke="#cece45"/><line x1="83.5" y1="81.6" x2="80.5" y2="79.2" stroke="#53565d"/><line x1="80.5" y1="79.2" x2="77.4" y2="76.7" stroke="#cece45"/><line x1="83.5" y1="81.6" x2="77.9" y2="84.0" stroke="#53565d"/><line x1="77.9" y1="84.0" x2="72.3" y2="86.5" stroke="#cece45"/><line x1="83.5" y1="81.6" x2="88.2" y2="86.4" stroke="#53565d"/><line x1="88.2" y1="86.4" x2="92.8" y2="91.2" stroke="#cece45"/><line x1="88.2" y1="70.3" x2="85.8" y2="75.9" stroke="#cece45"/><line x1="85.8" y1="75.9" x2="83.5" y2="81.6" stroke="#53565d"/><line x1="42.7" y1="72.8" x2="47.5" y2="76.5" stroke="#53565d"/><line x1="47.5" y1="76.5" x2="52.4" y2="80.3" stroke="#cece45"/><line x1="42.7" y1="72.8" x2="42.2" y2="76.5" stroke="#53565d"/><line x1="42.2" y1="76.5" x2="41.6" y2="80.3" stroke="#cece45"/><line x1="42.7" y1="72.8" x2="44.8" y2="66.5" stroke="#53565d"/><line x1="44.8" y1="66.5" x2="46.8" y2="60.2" stroke="#cece45"/><line x1="30.9" y1="74.6" x2="36.8" y2="73.7" stroke="#cece45"/><line x1="36.8" y1="73.7" x2="42.7" y2="72.8" stroke="#53565d"/><line x1="21.0" y1="78.6" x2="25.9" y2="76.6" stroke="#cece45"/><line x1="25.9" y1="76.6" x2="30.9" y2="74.6" stroke="#cece45"/><line x1="21.0" y1="78.6" x2="23.6" y2="82.2" stroke="#cece45"/><line x1="23.6" y1="82.2" x2="26.3" y2="85.9" stroke="#53565d"/><line x1="31.5" y1="75.6" x2="28.9" y2="80.8" stroke="#53565d"/><line x1="28.9" y1="80.8" x2="26.3" y2="85.9" stroke="#53565d"/><line x1="30.9" y1="74.6" x2="31.2" y2="75.1" stroke="#cece45"/><line x1="31.2" y1="75.1" x2="31.5" y2="75.6" stroke="#53565d"/><line x1="52.4" y1="80.3" x2="50.5" y2="85.9" stroke="#cece45"/><line x1="50.5" y1="85.9" x2="48.5" y2="91.5" stroke="#53565d"/><line x1="60.6" y1="89.2" x2="62.5" y2="83.1" stroke="#cece45"/><line x1="62.5" y1="83.1" x2="64.4" y2="77.0" stroke="#53565d"/><line x1="69.4" y1="98.2" x2="70.8" y2="92.3" stroke="#53565d"/><line x1="70.8" y1="92.3" x2="72.3" y2="86.5" stroke="#cece45"/><line x1="72.3" y1="86.5" x2="72.7" y2="87.0" stroke="#cece45"/><line x1="72.7" y1="87.0" x2="73.0" y2="87.6" stroke="#53565d"/><line x1="69.4" y1="98.2" x2="74.1" y2="102.7" stroke="#53565d"/><line x1="74.1" y1="102.7" x2="78.7" y2="107.1" stroke="#cece45"/><line x1="80.0" y1="97.4" x2="79.2" y2="101.2" stroke="#cece45"/><line x1="79.2" y1="101.2" x2="78.5" y2="105.0" stroke="#53565d"/><line x1="78.7" y1="107.1" x2="84.6" y2="105.2" stroke="#cece45"/><line x1="84.6" y1="105.2" x2="90.5" y2="103.2" stroke="#53565d"/><line x1="90.5" y1="103.2" x2="95.4" y2="101.3" stroke="#53565d"/><line x1="95.4" y1="101.3" x2="100.3" y2="99.5" stroke="#cece45"/><line x1="100.3" y1="99.5" x2="97.9" y2="95.4" stroke="#cece45"/><line x1="97.9" y1="95.4" x2="95.5" y2="91.3" stroke="#53565d"/><line x1="95.5" y1="91.3" x2="94.2" y2="91.2" stroke="#53565d"/><line x1="94.2" y1="91.2" x2="92.8" y2="91.2" stroke="#cece45"/><line x1="78.7" y1="107.1" x2="77.0" y2="113.4" stroke="#cece45"/><line x1="77.0" y1="113.4" x2="75.3" y2="119.7" stroke="#53565d"/><line x1="75.3" y1="119.7" x2="73.3" y2="123.7" stroke="#53565d"/><line x1="73.3" y1="123.7" x2="71.4" y2="127.6" stroke="#cece45"/><line x1="63.2" y1="122.0" x2="69.2" y2="120.8" stroke="#cece45"/><line x1="69.2" y1="120.8" x2="75.3" y2="119.7" stroke="#53565d"/><line x1="63.2" y1="122.0" x2="67.3" y2="124.8" stroke="#cece45"/><line x1="67.3" y1="124.8" x2="71.4" y2="127.6" stroke="#cece45"/><line x1="63.2" y1="122.0" x2="59.5" y2="117.4" stroke="#cece45"/><line x1="59.5" y1="117.4" x2="55.9" y2="112.8" stroke="#53565d"/><line x1="55.9" y1="112.8" x2="59.4" y2="111.2" stroke="#53565d"/><line x1="59.4" y1="111.2" x2="62.9" y2="109.6" stroke="#cece45"/><line x1="55.9" y1="112.8" x2="49.0" y2="114.0" stroke="#53565d"/><line x1="49.0" y1="114.0" x2="42.1" y2="115.3" stroke="#cece45"/><line x1="55.9" y1="112.8" x2="56.3" y2="106.5" stroke="#53565d"/><line x1="56.3" y1="106.5" x2="56.8" y2="100.3" stroke="#cece45"/><line x1="56.8" y1="100.3" x2="52.6" y2="95.9" stroke="#cece45"/><line x1="52.6" y1="95.9" x2="48.5" y2="91.5" stroke="#53565d"/><line x1="56.8" y1="100.3" x2="63.1" y2="99.2" stroke="#cece45"/><line x1="63.1" y1="99.2" x2="69.4" y2="98.2" stroke="#53565d"/><line x1="36.3" y1="95.5" x2="31.3" y2="90.7" stroke="#cece45"/><line x1="31.3" y1="90.7" x2="26.3" y2="85.9" stroke="#53565d"/><line x1="36.3" y1="95.5" x2="42.4" y2="93.5" stroke="#cece45"/><line x1="42.4" y1="93.5" x2="48.5" y2="91.5" stroke="#53565d"/><line x1="36.3" y1="95.5" x2="35.1" y2="101.2" stroke="#cece45"/><line x1="35.1" y1="101.2" x2="33.9" y2="107.0" stroke="#53565d"/><line x1="43.6" y1="101.2" x2="38.8" y2="104.1" stroke="#cece45"/><line x1="38.8" y1="104.1" x2="33.9" y2="107.0" stroke="#53565d"/><line x1="42.1" y1="115.3" x2="38.0" y2="111.2" stroke="#cece45"/><line x1="38.0" y1="111.2" x2="33.9" y2="107.0" stroke="#53565d"/><line x1="42.1" y1="115.3" x2="41.5" y2="116.8" stroke="#cece45"/><line x1="41.5" y1="116.8" x2="41.0" y2="118.3" stroke="#53565d"/><line x1="31.8" y1="116.7" x2="32.9" y2="111.8" stroke="#cece45"/><line x1="32.9" y1="111.8" x2="33.9" y2="107.0" stroke="#53565d"/><line x1="31.8" y1="116.7" x2="36.4" y2="117.5" stroke="#cece45"/><line x1="36.4" y1="117.5" x2="41.0" y2="118.3" stroke="#53565d"/><line x1="92.8" y1="91.2" x2="91.7" y2="97.2" stroke="#cece45"/><line x1="91.7" y1="97.2" x2="90.5" y2="103.2" stroke="#53565d"/></g><circle cx="45.9" cy="57.6" r="3.3" fill="url(#ab_3c4048)"/><circle cx="58.0" cy="56.8" r="3.3" fill="url(#ab_3c4048)"/><circle cx="65.2" cy="65.5" r="3.3" fill="url(#ab_3c4048)"/><circle cx="80.5" cy="60.9" r="3.3" fill="url(#ab_3c4048)"/><circle cx="87.6" cy="70.6" r="3.3" fill="url(#ab_3c4048)"/><circle cx="42.7" cy="72.8" r="3.3" fill="url(#ab_3c4048)"/><circle cx="64.4" cy="77.0" r="3.3" fill="url(#ab_3c4048)"/><circle cx="83.5" cy="81.6" r="3.3" fill="url(#ab_3c4048)"/><circle cx="31.5" cy="75.6" r="3.3" fill="url(#ab_3c4048)"/><circle cx="26.3" cy="85.9" r="3.3" fill="url(#ab_3c4048)"/><circle cx="48.5" cy="91.5" r="3.3" fill="url(#ab_3c4048)"/><circle cx="69.4" cy="98.2" r="3.3" fill="url(#ab_3c4048)"/><circle cx="73.0" cy="87.6" r="3.3" fill="url(#ab_3c4048)"/><circle cx="95.5" cy="91.3" r="3.3" fill="url(#ab_3c4048)"/><circle cx="90.5" cy="103.2" r="3.3" fill="url(#ab_3c4048)"/><circle cx="33.9" cy="107.0" r="3.3" fill="url(#ab_3c4048)"/><circle cx="55.9" cy="112.8" r="3.3" fill="url(#ab_3c4048)"/><circle cx="75.3" cy="119.7" r="3.3" fill="url(#ab_3c4048)"/><circle cx="41.0" cy="118.3" r="3.3" fill="url(#ab_3c4048)"/><circle cx="78.5" cy="105.0" r="3.3" fill="url(#ab_3c4048)"/><circle cx="49.8" cy="49.4" r="2.3" fill="url(#as_c8c82c)"/><circle cx="46.8" cy="60.2" r="2.3" fill="url(#as_c8c82c)"/><circle cx="67.1" cy="64.4" r="2.3" fill="url(#as_c8c82c)"/><circle cx="58.5" cy="68.4" r="2.3" fill="url(#as_c8c82c)"/><circle cx="89.5" cy="59.7" r="2.3" fill="url(#as_c8c82c)"/><circle cx="88.2" cy="70.3" r="2.3" fill="url(#as_c8c82c)"/><circle cx="77.4" cy="76.7" r="2.3" fill="url(#as_c8c82c)"/><circle cx="30.9" cy="74.6" r="2.3" fill="url(#as_c8c82c)"/><circle cx="21.0" cy="78.6" r="2.3" fill="url(#as_c8c82c)"/><circle cx="41.6" cy="80.3" r="2.3" fill="url(#as_c8c82c)"/><circle cx="52.4" cy="80.3" r="2.3" fill="url(#as_c8c82c)"/><circle cx="72.3" cy="86.5" r="2.3" fill="url(#as_c8c82c)"/><circle cx="60.6" cy="89.2" r="2.3" fill="url(#as_c8c82c)"/><circle cx="92.8" cy="91.2" r="2.3" fill="url(#as_c8c82c)"/><circle cx="100.3" cy="99.5" r="2.3" fill="url(#as_c8c82c)"/><circle cx="36.3" cy="95.5" r="2.3" fill="url(#as_c8c82c)"/><circle cx="43.6" cy="101.2" r="2.3" fill="url(#as_c8c82c)"/><circle cx="56.8" cy="100.3" r="2.3" fill="url(#as_c8c82c)"/><circle cx="80.0" cy="97.4" r="2.3" fill="url(#as_c8c82c)"/><circle cx="78.7" cy="107.1" r="2.3" fill="url(#as_c8c82c)"/><circle cx="62.9" cy="109.6" r="2.3" fill="url(#as_c8c82c)"/><circle cx="42.1" cy="115.3" r="2.3" fill="url(#as_c8c82c)"/><circle cx="31.8" cy="116.7" r="2.3" fill="url(#as_c8c82c)"/><circle cx="63.2" cy="122.0" r="2.3" fill="url(#as_c8c82c)"/><circle cx="71.4" cy="127.6" r="2.3" fill="url(#as_c8c82c)"/></g>
<rect x="95.3" y="136.0" width="44.8" height="4.6" fill="#000"/>
<text x="116.3" y="133.6" text-anchor="middle" class="sb" textLength="32.6" lengthAdjust="spacingAndGlyphs" stroke="#000" stroke-width="0.25">0.8 nm</text>
</g></g>
<text x="356.7" y="185.6" class="lbl serif">g</text>
<text x="441.2" y="183.6" text-anchor="middle" class="ttl" textLength="29.8" lengthAdjust="spacingAndGlyphs">In<tspan class="sub" dy="3">2</tspan><tspan dy="-3">S</tspan><tspan class="sub" dy="3">3</tspan></text>
<g transform="translate(540.1,188.0)">
<clipPath id="pch"><rect x="0" y="0" width="143.7" height="143.0"/></clipPath>
<g clip-path="url(#pch)"><use href="#stmbg" x="0.0"/>
<path d="M21.7,20.9 L99.7,20.9 L138.1,86.8 L60.1,86.8 Z" fill="none" stroke="#fff" stroke-width="2.4" stroke-linejoin="miter"/>
<g transform="translate(0.30,-0.10)"><g stroke-width="1.8" stroke-linecap="butt"><line x1="49.8" y1="49.4" x2="47.8" y2="53.5" stroke="#9b9973"/><line x1="47.8" y1="53.5" x2="45.9" y2="57.6" stroke="#51555d"/><line x1="49.8" y1="49.4" x2="53.9" y2="53.1" stroke="#9b9973"/><line x1="53.9" y1="53.1" x2="58.0" y2="56.8" stroke="#51555d"/><line x1="46.8" y1="60.2" x2="52.4" y2="58.5" stroke="#9b9973"/><line x1="52.4" y1="58.5" x2="58.0" y2="56.8" stroke="#51555d"/><line x1="46.8" y1="60.2" x2="46.3" y2="58.9" stroke="#9b9973"/><line x1="46.3" y1="58.9" x2="45.9" y2="57.6" stroke="#51555d"/><line x1="58.0" y1="56.8" x2="62.5" y2="60.6" stroke="#51555d"/><line x1="62.5" y1="60.6" x2="67.1" y2="64.4" stroke="#9b9973"/><line x1="67.1" y1="64.4" x2="73.8" y2="62.7" stroke="#9b9973"/><line x1="73.8" y1="62.7" x2="80.5" y2="60.9" stroke="#51555d"/><line x1="80.5" y1="60.9" x2="85.0" y2="60.3" stroke="#51555d"/><line x1="85.0" y1="60.3" x2="89.5" y2="59.7" stroke="#9b9973"/><line x1="80.5" y1="60.9" x2="84.3" y2="65.6" stroke="#51555d"/><line x1="84.3" y1="65.6" x2="88.2" y2="70.3" stroke="#9b9973"/><line x1="89.5" y1="59.7" x2="88.5" y2="65.2" stroke="#9b9973"/><line x1="88.5" y1="65.2" x2="87.6" y2="70.6" stroke="#51555d"/><line x1="88.2" y1="70.3" x2="87.9" y2="70.4" stroke="#9b9973"/><line x1="87.9" y1="70.4" x2="87.6" y2="70.6" stroke="#51555d"/><line x1="65.2" y1="65.5" x2="61.9" y2="67.0" stroke="#51555d"/><line x1="61.9" y1="67.0" x2="58.5" y2="68.4" stroke="#9b9973"/><line x1="67.1" y1="64.4" x2="66.2" y2="65.0" stroke="#9b9973"/><line x1="66.2" y1="65.0" x2="65.2" y2="65.5" stroke="#51555d"/><line x1="67.1" y1="64.4" x2="65.8" y2="70.7" stroke="#9b9973"/><line x1="65.8" y1="70.7" x2="64.4" y2="77.0" stroke="#51555d"/><line x1="64.4" y1="77.0" x2="58.4" y2="78.7" stroke="#51555d"/><line x1="58.4" y1="78.7" x2="52.4" y2="80.3" stroke="#9b9973"/><line x1="64.4" y1="77.0" x2="68.3" y2="81.8" stroke="#51555d"/><line x1="68.3" y1="81.8" x2="72.3" y2="86.5" stroke="#9b9973"/><line x1="83.5" y1="81.6" x2="80.5" y2="79.2" stroke="#51555d"/><line x1="80.5" y1="79.2" x2="77.4" y2="76.7" stroke="#9b9973"/><line x1="83.5" y1="81.6" x2="77.9" y2="84.0" stroke="#51555d"/><line x1="77.9" y1="84.0" x2="72.3" y2="86.5" stroke="#9b9973"/><line x1="83.5" y1="81.6" x2="88.2" y2="86.4" stroke="#51555d"/><line x1="88.2" y1="86.4" x2="92.8" y2="91.2" stroke="#9b9973"/><line x1="88.2" y1="70.3" x2="85.8" y2="75.9" stroke="#9b9973"/><line x1="85.8" y1="75.9" x2="83.5" y2="81.6" stroke="#51555d"/><line x1="42.7" y1="72.8" x2="47.5" y2="76.5" stroke="#51555d"/><line x1="47.5" y1="76.5" x2="52.4" y2="80.3" stroke="#9b9973"/><line x1="42.7" y1="72.8" x2="42.2" y2="76.5" stroke="#51555d"/><line x1="42.2" y1="76.5" x2="41.6" y2="80.3" stroke="#9b9973"/><line x1="42.7" y1="72.8" x2="44.8" y2="66.5" stroke="#51555d"/><line x1="44.8" y1="66.5" x2="46.8" y2="60.2" stroke="#9b9973"/><line x1="30.9" y1="74.6" x2="36.8" y2="73.7" stroke="#9b9973"/><line x1="36.8" y1="73.7" x2="42.7" y2="72.8" stroke="#51555d"/><line x1="21.0" y1="78.6" x2="25.9" y2="76.6" stroke="#9b9973"/><line x1="25.9" y1="76.6" x2="30.9" y2="74.6" stroke="#9b9973"/><line x1="21.0" y1="78.6" x2="23.6" y2="82.2" stroke="#9b9973"/><line x1="23.6" y1="82.2" x2="26.3" y2="85.9" stroke="#51555d"/><line x1="31.5" y1="75.6" x2="28.9" y2="80.8" stroke="#51555d"/><line x1="28.9" y1="80.8" x2="26.3" y2="85.9" stroke="#51555d"/><line x1="30.9" y1="74.6" x2="31.2" y2="75.1" stroke="#9b9973"/><line x1="31.2" y1="75.1" x2="31.5" y2="75.6" stroke="#51555d"/><line x1="52.4" y1="80.3" x2="50.5" y2="85.9" stroke="#9b9973"/><line x1="50.5" y1="85.9" x2="48.5" y2="91.5" stroke="#51555d"/><line x1="60.6" y1="89.2" x2="62.5" y2="83.1" stroke="#9b9973"/><line x1="62.5" y1="83.1" x2="64.4" y2="77.0" stroke="#51555d"/><line x1="69.4" y1="98.2" x2="70.8" y2="92.3" stroke="#51555d"/><line x1="70.8" y1="92.3" x2="72.3" y2="86.5" stroke="#9b9973"/><line x1="72.3" y1="86.5" x2="72.7" y2="87.0" stroke="#9b9973"/><line x1="72.7" y1="87.0" x2="73.0" y2="87.6" stroke="#51555d"/><line x1="69.4" y1="98.2" x2="74.1" y2="102.7" stroke="#51555d"/><line x1="74.1" y1="102.7" x2="78.7" y2="107.1" stroke="#9b9973"/><line x1="80.0" y1="97.4" x2="79.2" y2="101.2" stroke="#9b9973"/><line x1="79.2" y1="101.2" x2="78.5" y2="105.0" stroke="#51555d"/><line x1="78.7" y1="107.1" x2="84.6" y2="105.2" stroke="#9b9973"/><line x1="84.6" y1="105.2" x2="90.5" y2="103.2" stroke="#51555d"/><line x1="90.5" y1="103.2" x2="95.4" y2="101.3" stroke="#51555d"/><line x1="95.4" y1="101.3" x2="100.3" y2="99.5" stroke="#9b9973"/><line x1="100.3" y1="99.5" x2="97.9" y2="95.4" stroke="#9b9973"/><line x1="97.9" y1="95.4" x2="95.5" y2="91.3" stroke="#51555d"/><line x1="95.5" y1="91.3" x2="94.2" y2="91.2" stroke="#51555d"/><line x1="94.2" y1="91.2" x2="92.8" y2="91.2" stroke="#9b9973"/><line x1="78.7" y1="107.1" x2="77.0" y2="113.4" stroke="#9b9973"/><line x1="77.0" y1="113.4" x2="75.3" y2="119.7" stroke="#51555d"/><line x1="75.3" y1="119.7" x2="73.3" y2="123.7" stroke="#51555d"/><line x1="73.3" y1="123.7" x2="71.4" y2="127.6" stroke="#9b9973"/><line x1="63.2" y1="122.0" x2="69.2" y2="120.8" stroke="#9b9973"/><line x1="69.2" y1="120.8" x2="75.3" y2="119.7" stroke="#51555d"/><line x1="63.2" y1="122.0" x2="67.3" y2="124.8" stroke="#9b9973"/><line x1="67.3" y1="124.8" x2="71.4" y2="127.6" stroke="#9b9973"/><line x1="63.2" y1="122.0" x2="59.5" y2="117.4" stroke="#9b9973"/><line x1="59.5" y1="117.4" x2="55.9" y2="112.8" stroke="#51555d"/><line x1="55.9" y1="112.8" x2="59.4" y2="111.2" stroke="#51555d"/><line x1="59.4" y1="111.2" x2="62.9" y2="109.6" stroke="#9b9973"/><line x1="55.9" y1="112.8" x2="49.0" y2="114.0" stroke="#51555d"/><line x1="49.0" y1="114.0" x2="42.1" y2="115.3" stroke="#9b9973"/><line x1="55.9" y1="112.8" x2="56.3" y2="106.5" stroke="#51555d"/><line x1="56.3" y1="106.5" x2="56.8" y2="100.3" stroke="#9b9973"/><line x1="56.8" y1="100.3" x2="52.6" y2="95.9" stroke="#9b9973"/><line x1="52.6" y1="95.9" x2="48.5" y2="91.5" stroke="#51555d"/><line x1="56.8" y1="100.3" x2="63.1" y2="99.2" stroke="#9b9973"/><line x1="63.1" y1="99.2" x2="69.4" y2="98.2" stroke="#51555d"/><line x1="36.3" y1="95.5" x2="31.3" y2="90.7" stroke="#9b9973"/><line x1="31.3" y1="90.7" x2="26.3" y2="85.9" stroke="#51555d"/><line x1="36.3" y1="95.5" x2="42.4" y2="93.5" stroke="#9b9973"/><line x1="42.4" y1="93.5" x2="48.5" y2="91.5" stroke="#51555d"/><line x1="36.3" y1="95.5" x2="35.1" y2="101.2" stroke="#9b9973"/><line x1="35.1" y1="101.2" x2="33.9" y2="107.0" stroke="#51555d"/><line x1="43.6" y1="101.2" x2="38.8" y2="104.1" stroke="#9b9973"/><line x1="38.8" y1="104.1" x2="33.9" y2="107.0" stroke="#51555d"/><line x1="42.1" y1="115.3" x2="38.0" y2="111.2" stroke="#9b9973"/><line x1="38.0" y1="111.2" x2="33.9" y2="107.0" stroke="#51555d"/><line x1="42.1" y1="115.3" x2="41.5" y2="116.8" stroke="#9b9973"/><line x1="41.5" y1="116.8" x2="41.0" y2="118.3" stroke="#51555d"/><line x1="31.8" y1="116.7" x2="32.9" y2="111.8" stroke="#9b9973"/><line x1="32.9" y1="111.8" x2="33.9" y2="107.0" stroke="#51555d"/><line x1="31.8" y1="116.7" x2="36.4" y2="117.5" stroke="#9b9973"/><line x1="36.4" y1="117.5" x2="41.0" y2="118.3" stroke="#51555d"/><line x1="92.8" y1="91.2" x2="91.7" y2="97.2" stroke="#9b9973"/><line x1="91.7" y1="97.2" x2="90.5" y2="103.2" stroke="#51555d"/></g><circle cx="45.9" cy="57.6" r="3.3" fill="url(#ab_3a3e48)"/><circle cx="58.0" cy="56.8" r="3.3" fill="url(#ab_3a3e48)"/><circle cx="65.2" cy="65.5" r="3.3" fill="url(#ab_3a3e48)"/><circle cx="80.5" cy="60.9" r="3.3" fill="url(#ab_3a3e48)"/><circle cx="87.6" cy="70.6" r="3.3" fill="url(#ab_3a3e48)"/><circle cx="42.7" cy="72.8" r="3.3" fill="url(#ab_3a3e48)"/><circle cx="64.4" cy="77.0" r="3.3" fill="url(#ab_3a3e48)"/><circle cx="83.5" cy="81.6" r="3.3" fill="url(#ab_3a3e48)"/><circle cx="31.5" cy="75.6" r="3.3" fill="url(#ab_3a3e48)"/><circle cx="26.3" cy="85.9" r="3.3" fill="url(#ab_3a3e48)"/><circle cx="48.5" cy="91.5" r="3.3" fill="url(#ab_3a3e48)"/><circle cx="69.4" cy="98.2" r="3.3" fill="url(#ab_3a3e48)"/><circle cx="73.0" cy="87.6" r="3.3" fill="url(#ab_3a3e48)"/><circle cx="95.5" cy="91.3" r="3.3" fill="url(#ab_3a3e48)"/><circle cx="90.5" cy="103.2" r="3.3" fill="url(#ab_3a3e48)"/><circle cx="33.9" cy="107.0" r="3.3" fill="url(#ab_3a3e48)"/><circle cx="55.9" cy="112.8" r="3.3" fill="url(#ab_3a3e48)"/><circle cx="75.3" cy="119.7" r="3.3" fill="url(#ab_3a3e48)"/><circle cx="41.0" cy="118.3" r="3.3" fill="url(#ab_3a3e48)"/><circle cx="78.5" cy="105.0" r="3.3" fill="url(#ab_3a3e48)"/><circle cx="49.8" cy="49.4" r="2.3" fill="url(#as_8e8c60)"/><circle cx="46.8" cy="60.2" r="2.3" fill="url(#as_8e8c60)"/><circle cx="67.1" cy="64.4" r="2.3" fill="url(#as_8e8c60)"/><circle cx="58.5" cy="68.4" r="2.3" fill="url(#as_8e8c60)"/><circle cx="89.5" cy="59.7" r="2.3" fill="url(#as_8e8c60)"/><circle cx="88.2" cy="70.3" r="2.3" fill="url(#as_8e8c60)"/><circle cx="77.4" cy="76.7" r="2.3" fill="url(#as_8e8c60)"/><circle cx="30.9" cy="74.6" r="2.3" fill="url(#as_8e8c60)"/><circle cx="21.0" cy="78.6" r="2.3" fill="url(#as_8e8c60)"/><circle cx="41.6" cy="80.3" r="2.3" fill="url(#as_8e8c60)"/><circle cx="52.4" cy="80.3" r="2.3" fill="url(#as_8e8c60)"/><circle cx="72.3" cy="86.5" r="2.3" fill="url(#as_8e8c60)"/><circle cx="60.6" cy="89.2" r="2.3" fill="url(#as_8e8c60)"/><circle cx="92.8" cy="91.2" r="2.3" fill="url(#as_8e8c60)"/><circle cx="100.3" cy="99.5" r="2.3" fill="url(#as_8e8c60)"/><circle cx="36.3" cy="95.5" r="2.3" fill="url(#as_8e8c60)"/><circle cx="43.6" cy="101.2" r="2.3" fill="url(#as_8e8c60)"/><circle cx="56.8" cy="100.3" r="2.3" fill="url(#as_8e8c60)"/><circle cx="80.0" cy="97.4" r="2.3" fill="url(#as_8e8c60)"/><circle cx="78.7" cy="107.1" r="2.3" fill="url(#as_8e8c60)"/><circle cx="62.9" cy="109.6" r="2.3" fill="url(#as_8e8c60)"/><circle cx="42.1" cy="115.3" r="2.3" fill="url(#as_8e8c60)"/><circle cx="31.8" cy="116.7" r="2.3" fill="url(#as_8e8c60)"/><circle cx="63.2" cy="122.0" r="2.3" fill="url(#as_8e8c60)"/><circle cx="71.4" cy="127.6" r="2.3" fill="url(#as_8e8c60)"/></g>
<rect x="88.9" y="136.0" width="50.3" height="4.6" fill="#000"/>
<text x="113.4" y="133.6" text-anchor="middle" class="sb" textLength="32.6" lengthAdjust="spacingAndGlyphs" stroke="#000" stroke-width="0.25">0.8 nm</text>
</g></g>
<text x="526.6" y="185.6" class="lbl">h</text>
<text x="612.7" y="183.6" text-anchor="middle" class="ttl" textLength="37.0" lengthAdjust="spacingAndGlyphs">In<tspan class="sub" dy="3">2</tspan><tspan dy="-3">Te</tspan><tspan class="sub" dy="3">3</tspan></text>
<defs><linearGradient id="gbeta" x1="0" y1="0" x2="0" y2="1"><stop offset="0" stop-color="#f2f2f2"/><stop offset="1" stop-color="#d9d9d9"/></linearGradient><linearGradient id="gcsod" x1="0" y1="0" x2="0" y2="1"><stop offset="0" stop-color="#bfc7b7"/><stop offset="1" stop-color="#879081"/></linearGradient></defs><rect x="50.80" y="463.6" width="9.8" height="151.4" fill="url(#gbeta)"/><rect x="60.60" y="394.1" width="9.7" height="220.8" fill="url(#gcsod)"/><text x="54.2" y="461.0" class="bv" text-anchor="middle" textLength="13.4" lengthAdjust="spacingAndGlyphs">2.4</text><text x="65.2" y="391.8" class="bv" text-anchor="middle" textLength="13.4" lengthAdjust="spacingAndGlyphs">3.5</text><line x1="60.6" y1="615.0" x2="60.6" y2="620.6" stroke="#000" stroke-width="1.3"/><text x="62.1" y="633" class="xl" text-anchor="middle" textLength="21.5" lengthAdjust="spacingAndGlyphs"><tspan dy="0">Al</tspan><tspan class="s" dy="2.2">2</tspan><tspan dy="-2.2">S</tspan><tspan class="s" dy="2.2">3</tspan></text><rect x="83.74" y="526.7" width="9.8" height="88.3" fill="url(#gbeta)"/><rect x="93.54" y="450.9" width="9.7" height="164.1" fill="url(#gcsod)"/><text x="87.1" y="524.1" class="bv" text-anchor="middle" textLength="13.4" lengthAdjust="spacingAndGlyphs">1.4</text><text x="98.1" y="448.5" class="bv" text-anchor="middle" textLength="13.4" lengthAdjust="spacingAndGlyphs">2.6</text><line x1="93.5" y1="615.0" x2="93.5" y2="620.6" stroke="#000" stroke-width="1.3"/><text x="93.7" y="633" class="xl" text-anchor="middle" textLength="27.0" lengthAdjust="spacingAndGlyphs"><tspan dy="0">Al</tspan><tspan class="s" dy="2.2">2</tspan><tspan dy="-2.2">Se</tspan><tspan class="s" dy="2.2">3</tspan></text><rect x="116.68" y="602.4" width="9.8" height="12.6" fill="url(#gbeta)"/><rect x="126.48" y="520.4" width="9.7" height="94.7" fill="url(#gcsod)"/><text x="120.1" y="599.8" class="bv" text-anchor="middle" textLength="13.4" lengthAdjust="spacingAndGlyphs">0.2</text><text x="131.1" y="518.0" class="bv" text-anchor="middle" textLength="13.4" lengthAdjust="spacingAndGlyphs">1.5</text><line x1="126.5" y1="615.0" x2="126.5" y2="620.6" stroke="#000" stroke-width="1.3"/><text x="127.0" y="633" class="xl" text-anchor="middle" textLength="27.0" lengthAdjust="spacingAndGlyphs"><tspan dy="0">Al</tspan><tspan class="s" dy="2.2">2</tspan><tspan dy="-2.2">Te</tspan><tspan class="s" dy="2.2">3</tspan></text><rect x="149.62" y="533.0" width="9.8" height="82.0" fill="url(#gbeta)"/><rect x="159.42" y="450.9" width="9.7" height="164.1" fill="url(#gcsod)"/><text x="153.0" y="530.4" class="bv" text-anchor="middle" textLength="13.4" lengthAdjust="spacingAndGlyphs">1.3</text><text x="164.0" y="448.5" class="bv" text-anchor="middle" textLength="13.4" lengthAdjust="spacingAndGlyphs">2.6</text><line x1="159.4" y1="615.0" x2="159.4" y2="620.6" stroke="#000" stroke-width="1.3"/><text x="160.2" y="633" class="xl" text-anchor="middle" textLength="27.0" lengthAdjust="spacingAndGlyphs"><tspan dy="0">Ga</tspan><tspan class="s" dy="2.2">2</tspan><tspan dy="-2.2">S</tspan><tspan class="s" dy="2.2">3</tspan></text><rect x="182.56" y="589.8" width="9.8" height="25.2" fill="url(#gbeta)"/><rect x="192.36" y="501.4" width="9.7" height="113.6" fill="url(#gcsod)"/><text x="186.0" y="587.2" class="bv" text-anchor="middle" textLength="13.4" lengthAdjust="spacingAndGlyphs">0.4</text><text x="197.0" y="499.0" class="bv" text-anchor="middle" textLength="13.4" lengthAdjust="spacingAndGlyphs">1.8</text><line x1="192.4" y1="615.0" x2="192.4" y2="620.6" stroke="#000" stroke-width="1.3"/><text x="193.1" y="633" class="xl" text-anchor="middle" textLength="30.7" lengthAdjust="spacingAndGlyphs"><tspan dy="0">Ga</tspan><tspan class="s" dy="2.2">2</tspan><tspan dy="-2.2">Se</tspan><tspan class="s" dy="2.2">3</tspan></text><rect x="225.30" y="558.2" width="9.7" height="56.8" fill="url(#gcsod)"/><text x="218.9" y="612.4" class="bv" text-anchor="middle">0</text><text x="229.9" y="555.8" class="bv" text-anchor="middle" textLength="13.4" lengthAdjust="spacingAndGlyphs">0.9</text><line x1="225.3" y1="615.0" x2="225.3" y2="620.6" stroke="#000" stroke-width="1.3"/><text x="226.1" y="633" class="xl" text-anchor="middle" textLength="30.2" lengthAdjust="spacingAndGlyphs"><tspan dy="0">Ga</tspan><tspan class="s" dy="2.2">2</tspan><tspan dy="-2.2">Te</tspan><tspan class="s" dy="2.2">3</tspan></text><rect x="248.44" y="495.1" width="9.8" height="119.9" fill="url(#gbeta)"/><rect x="258.24" y="438.3" width="9.7" height="176.7" fill="url(#gcsod)"/><text x="251.8" y="492.5" class="bv" text-anchor="middle" textLength="13.4" lengthAdjust="spacingAndGlyphs">1.9</text><text x="262.8" y="435.9" class="bv" text-anchor="middle" textLength="13.4" lengthAdjust="spacingAndGlyphs">2.8</text><line x1="258.2" y1="615.0" x2="258.2" y2="620.6" stroke="#000" stroke-width="1.3"/><text x="259.3" y="633" class="xl" text-anchor="middle" textLength="21.0" lengthAdjust="spacingAndGlyphs"><tspan dy="0">In</tspan><tspan class="s" dy="2.2">2</tspan><tspan dy="-2.2">S</tspan><tspan class="s" dy="2.2">3</tspan></text><rect x="281.38" y="545.6" width="9.8" height="69.4" fill="url(#gbeta)"/><rect x="291.18" y="482.5" width="9.7" height="132.5" fill="url(#gcsod)"/><text x="284.8" y="543.0" class="bv" text-anchor="middle" textLength="13.4" lengthAdjust="spacingAndGlyphs">1.1</text><text x="295.8" y="480.1" class="bv" text-anchor="middle" textLength="13.4" lengthAdjust="spacingAndGlyphs">2.1</text><line x1="291.2" y1="615.0" x2="291.2" y2="620.6" stroke="#000" stroke-width="1.3"/><text x="293.3" y="633" class="xl" text-anchor="middle" textLength="29.6" lengthAdjust="spacingAndGlyphs"><tspan dy="0">In</tspan><tspan class="s" dy="2.2">2</tspan><tspan dy="-2.2">Se</tspan><tspan class="s" dy="2.2">3</tspan></text><rect x="314.32" y="602.4" width="9.8" height="12.6" fill="url(#gbeta)"/><rect x="324.12" y="533.0" width="9.7" height="82.0" fill="url(#gcsod)"/><text x="317.7" y="599.8" class="bv" text-anchor="middle" textLength="13.4" lengthAdjust="spacingAndGlyphs">0.2</text><text x="328.7" y="530.6" class="bv" text-anchor="middle" textLength="13.4" lengthAdjust="spacingAndGlyphs">1.3</text><line x1="324.1" y1="615.0" x2="324.1" y2="620.6" stroke="#000" stroke-width="1.3"/><text x="325.5" y="633" class="xl" text-anchor="middle" textLength="27.6" lengthAdjust="spacingAndGlyphs"><tspan dy="0">In</tspan><tspan class="s" dy="2.2">2</tspan><tspan dy="-2.2">Te</tspan><tspan class="s" dy="2.2">3</tspan></text><path d="M28.0,362.0 H357.3 V615.0 H28.0 Z" fill="none" stroke="#000" stroke-width="1.5"/><line x1="28.0" y1="615.0" x2="28.0" y2="620.6" stroke="#000" stroke-width="1.3"/><rect x="254.9" y="366" width="27.2" height="14" fill="url(#gbeta)"/><rect x="254.9" y="393.5" width="27.2" height="13.7" fill="url(#gcsod)"/><text x="285.8" y="377.5" class="lg" fill="#8a8a8a" textLength="48.7" lengthAdjust="spacingAndGlyphs">β<tspan class="ls" dy="3">C</tspan><tspan dy="-3"> phase</tspan></text><text x="285.8" y="405" class="lg" fill="#a3ad96" textLength="68.5" lengthAdjust="spacingAndGlyphs">c-SoD phase</text><text x="12.5" y="364" class="lbl">i</text><text transform="translate(12.3,535.1) rotate(-90)" class="ax" textLength="91.6" lengthAdjust="spacingAndGlyphs">Bandgap (eV)</text>
<defs><linearGradient id="gj" x1="0" y1="0" x2="0" y2="1"><stop offset="0" stop-color="#eea67b"/><stop offset="0.12" stop-color="#e4ad93"/><stop offset="0.24" stop-color="#cbafbd"/><stop offset="0.36" stop-color="#b7b5d9"/><stop offset="0.55" stop-color="#c8c8e4"/><stop offset="0.72" stop-color="#dcdcee"/><stop offset="0.87" stop-color="#ededf5"/><stop offset="1" stop-color="#fbfbfd"/></linearGradient></defs><rect x="421.3" y="362.0" width="262.7" height="252.5" fill="url(#gj)"/><ellipse cx="564.7" cy="407" rx="115.3" ry="34.6" fill="#f9e0cf" fill-opacity="0.88"/><ellipse cx="461.5" cy="472.5" rx="23.2" ry="46.2" fill="#e6e6ec" fill-opacity="0.85" stroke="#eeeef2" stroke-width="1" transform="rotate(3 461.5 472.5)"/><text x="506.7" y="385.2" class="jt" textLength="115.2" lengthAdjust="spacingAndGlyphs">c-SoD β-III<tspan class="s7" dy="1.8">2</tspan><tspan dy="-1.8">–VI</tspan><tspan class="s7" dy="1.8">3</tspan><tspan dy="-1.8"> in this work</tspan></text><g fill="none" stroke="#2a2a2a" stroke-width="0.9"><polyline points="464.6,433.7 486.4,451.0 588.3,451.0"/><polyline points="464.6,435.9 487.2,460.0 571.3,460.0"/><polyline points="464.6,439.6 486.4,468.9 557.0,468.9"/><polyline points="464.6,442.5 487.2,478.1 546.0,478.1"/><polyline points="468.2,456.3 486.1,486.8 533.0,486.8"/><polyline points="464.6,465.1 483.2,495.2 513.3,495.2"/><polyline points="464.6,468.7 482.8,503.8 498.8,503.8"/><polyline points="465.3,514.9 465.3,514.9 489.0,514.9"/><polyline points="471.2,601.6 487.4,528.5 507.6,528.5"/><polyline points="471.2,601.6 487.8,539.6 513.5,539.6"/><polyline points="471.2,601.6 487.8,550.6 524.3,550.6"/><polyline points="471.2,601.6 487.8,561.8 529.7,561.8"/><polyline points="471.2,601.6 488.1,573.1 535.1,573.1"/><polyline points="471.2,601.6 488.4,584.7 541.9,584.7"/><polyline points="471.2,601.6 488.1,595.7 551.3,595.7"/></g><text x="590.9" y="453.1" class="jl" textLength="57.3" lengthAdjust="spacingAndGlyphs"><tspan dy="0.0">√</tspan><tspan text-decoration="overline" dy="0.0">13</tspan><tspan dy="0.0">×√</tspan><tspan text-decoration="overline" dy="0.0">13</tspan><tspan dy="0.0"> 1</tspan><tspan font-style="italic" dy="0.0">T</tspan><tspan dy="0.0">-TaS</tspan><tspan class="s7" dy="1.8">2</tspan></text><text x="573.3" y="461.8" class="jl" textLength="59.6" lengthAdjust="spacingAndGlyphs"><tspan dy="0.0">√</tspan><tspan text-decoration="overline" dy="0.0">13</tspan><tspan dy="0.0">×√</tspan><tspan text-decoration="overline" dy="0.0">13</tspan><tspan dy="0.0"> 1</tspan><tspan font-style="italic" dy="0.0">T</tspan><tspan dy="0.0">-NbS</tspan><tspan class="s7" dy="1.8">2</tspan></text><text x="559.3" y="471.0" class="jl" textLength="63.1" lengthAdjust="spacingAndGlyphs"><tspan dy="0.0">√</tspan><tspan text-decoration="overline" dy="0.0">13</tspan><tspan dy="0.0">×√</tspan><tspan text-decoration="overline" dy="0.0">13</tspan><tspan dy="0.0"> 1</tspan><tspan font-style="italic" dy="0.0">T</tspan><tspan dy="0.0">-NbSe</tspan><tspan class="s7" dy="1.8">2</tspan></text><text x="548.3" y="480.7" class="jl" textLength="61.0" lengthAdjust="spacingAndGlyphs"><tspan dy="0.0">√</tspan><tspan text-decoration="overline" dy="0.0">13</tspan><tspan dy="0.0">×√</tspan><tspan text-decoration="overline" dy="0.0">13</tspan><tspan dy="0.0"> 1</tspan><tspan font-style="italic" dy="0.0">T</tspan><tspan dy="0.0">-TaSe</tspan><tspan class="s7" dy="1.8">2</tspan></text><text x="535.7" y="488.6" class="jl" textLength="41.0" lengthAdjust="spacingAndGlyphs"><tspan dy="0.0">2×2 1</tspan><tspan font-style="italic" dy="0.0">T</tspan><tspan dy="0.0">-TiSe</tspan><tspan class="s7" dy="1.8">2</tspan></text><text x="515.5" y="497.3" class="jl" textLength="78.0" lengthAdjust="spacingAndGlyphs"><tspan dy="0.0">2×√</tspan><tspan text-decoration="overline" dy="0.0">3</tspan><tspan dy="0.0"> &amp; √</tspan><tspan text-decoration="overline" dy="0.0">7</tspan><tspan dy="0.0">×√</tspan><tspan text-decoration="overline" dy="0.0">3</tspan><tspan dy="0.0"> 1</tspan><tspan font-style="italic" dy="0.0">T</tspan><tspan dy="0.0">-VSe</tspan><tspan class="s7" dy="1.8">2</tspan></text><text x="501.0" y="505.7" class="jl" textLength="57.8" lengthAdjust="spacingAndGlyphs"><tspan dy="0.0">2√</tspan><tspan text-decoration="overline" dy="0.0">3</tspan><tspan dy="0.0">×2√</tspan><tspan text-decoration="overline" dy="0.0">3</tspan><tspan dy="0.0"> 1</tspan><tspan font-style="italic" dy="0.0">T</tspan><tspan dy="0.0">-VTe</tspan><tspan class="s7" dy="1.8">2</tspan></text><text x="491.8" y="516.2" class="jl" textLength="44.7" lengthAdjust="spacingAndGlyphs"><tspan dy="0.0">4×√</tspan><tspan text-decoration="overline" dy="0.0">3</tspan><tspan dy="0.0"> 1</tspan><tspan font-style="italic" dy="0.0">T</tspan><tspan dy="0.0">-VSe</tspan><tspan class="s7" dy="1.8">2</tspan></text><text x="510.8" y="530.8" class="jl" textLength="64.3" lengthAdjust="spacingAndGlyphs"><tspan dy="0.0">AV</tspan><tspan class="s7" dy="1.8">3</tspan><tspan dy="-1.8">Sb</tspan><tspan class="s7" dy="1.8">5</tspan><tspan dy="-1.8"> (A=K, Rb, Cs)</tspan></text><text x="516.7" y="541.6" class="jl" textLength="48.1" lengthAdjust="spacingAndGlyphs"><tspan dy="0.0">4×1 2</tspan><tspan font-style="italic" dy="0.0">H</tspan><tspan dy="0.0">–NbSe</tspan><tspan class="s7" dy="1.8">2</tspan></text><text x="528.4" y="553.0" class="jl" textLength="42.4" lengthAdjust="spacingAndGlyphs"><tspan dy="0.0">4×4  1</tspan><tspan font-style="italic" dy="0.0">T</tspan><tspan dy="0.0">-VTe</tspan><tspan class="s7" dy="1.8">2</tspan></text><text x="533.8" y="564.0" class="jl" textLength="52.6" lengthAdjust="spacingAndGlyphs"><tspan dy="0.0">√</tspan><tspan text-decoration="overline" dy="0.0">7</tspan><tspan dy="0.0"> ×√</tspan><tspan text-decoration="overline" dy="0.0">3</tspan><tspan dy="0.0"> 1</tspan><tspan font-style="italic" dy="0.0">T</tspan><tspan dy="0.0">-VSe</tspan><tspan class="s7" dy="1.8">2</tspan></text><text x="539.2" y="575.4" class="jl" textLength="61.3" lengthAdjust="spacingAndGlyphs"><tspan dy="0.0">√</tspan><tspan text-decoration="overline" dy="0.0">13</tspan><tspan dy="0.0">×√</tspan><tspan text-decoration="overline" dy="0.0">13</tspan><tspan dy="0.0"> 1</tspan><tspan font-style="italic" dy="0.0">T</tspan><tspan dy="0.0">-TaTe</tspan><tspan class="s7" dy="1.8">2</tspan></text><text x="545.9" y="587.0" class="jl" textLength="84.3" lengthAdjust="spacingAndGlyphs"><tspan dy="0.0">4×1 1</tspan><tspan font-style="italic" dy="0.0">T</tspan><tspan dy="0.0">-TaS</tspan><tspan class="s7" dy="1.8">2</tspan><tspan dy="-1.8">; 3×3 2</tspan><tspan font-style="italic" dy="0.0">H</tspan><tspan dy="0.0">-TaS</tspan><tspan class="s7" dy="1.8">2</tspan></text><text x="555.4" y="597.8" class="jl" textLength="95.3" lengthAdjust="spacingAndGlyphs"><tspan dy="0.0">4×1 1</tspan><tspan font-style="italic" dy="0.0">T</tspan><tspan dy="0.0">-TaSe</tspan><tspan class="s7" dy="1.8">2</tspan><tspan dy="-1.8">;  3×3 1</tspan><tspan font-style="italic" dy="0.0">H</tspan><tspan dy="0.0">–TaSe</tspan><tspan class="s7" dy="1.8">2</tspan></text><circle cx="461.9" cy="469.4" r="3.1" fill="#b0b0d6"/><circle cx="461.9" cy="465.5" r="3.1" fill="#a8a8d2"/><circle cx="465.7" cy="455.3" r="3.0" fill="#a2a2d0"/><circle cx="461.9" cy="445.1" r="3.1" fill="#7a7ab8"/><circle cx="461.9" cy="440.0" r="3.1" fill="#7474b4"/><circle cx="461.9" cy="433.5" r="3.3" fill="#5656a6"/><circle cx="461.9" cy="514.2" r="3.2" fill="#b6b6dc"/><circle cx="461.3" cy="600.7" r="9.2" fill="#b9b9dd"/><text x="461.3" y="603" class="j0" text-anchor="middle">(0, 0)</text><polygon points="461.90,416.50 463.23,420.07 467.04,420.23 464.06,422.60 465.07,426.27 461.90,424.17 458.73,426.27 459.74,422.60 456.76,420.23 460.57,420.07" fill="#ff9c9c"/><polygon points="478.30,412.40 479.63,415.97 483.44,416.13 480.46,418.50 481.47,422.17 478.30,420.07 475.13,422.17 476.14,418.50 473.16,416.13 476.97,415.97" fill="#ff7878"/><polygon points="478.30,408.30 479.63,411.87 483.44,412.03 480.46,414.40 481.47,418.07 478.30,415.97 475.13,418.07 476.14,414.40 473.16,412.03 476.97,411.87" fill="#ff6c6c"/><polygon points="494.00,406.00 495.33,409.57 499.14,409.73 496.16,412.10 497.17,415.77 494.00,413.67 490.83,415.77 491.84,412.10 488.86,409.73 492.67,409.57" fill="#ff2020"/><polygon points="547.50,403.90 548.83,407.47 552.64,407.63 549.66,410.00 550.67,413.67 547.50,411.57 544.33,413.67 545.34,410.00 542.36,407.63 546.17,407.47" fill="#ff1010"/><polygon points="566.20,400.00 567.53,403.57 571.34,403.73 568.36,406.10 569.37,409.77 566.20,407.67 563.03,409.77 564.04,406.10 561.06,403.73 564.87,403.57" fill="#d0101a"/><polygon points="575.30,400.00 576.63,403.57 580.44,403.73 577.46,406.10 578.47,409.77 575.30,407.67 572.13,409.77 573.14,406.10 570.16,403.73 573.97,403.57" fill="#c8101a"/><polygon points="615.30,398.90 616.63,402.47 620.44,402.63 617.46,405.00 618.47,408.67 615.30,406.57 612.13,408.67 613.14,405.00 610.16,402.63 613.97,402.47" fill="#a00c14"/><polygon points="655.10,396.00 656.43,399.57 660.24,399.73 657.26,402.10 658.27,405.77 655.10,403.67 651.93,405.77 652.94,402.10 649.96,399.73 653.77,399.57" fill="#4c0808"/><text x="451.1" y="414.9" class="js" textLength="22.5" lengthAdjust="spacingAndGlyphs"><tspan dy="0.0">Ga</tspan><tspan class="s6" dy="1.8">2</tspan><tspan dy="-1.8">Te</tspan><tspan class="s6" dy="1.8">3</tspan></text><text x="468.4" y="406.7" class="js" textLength="20.7" lengthAdjust="spacingAndGlyphs"><tspan dy="0.0">Al</tspan><tspan class="s6" dy="1.8">2</tspan><tspan dy="-1.8">Te</tspan><tspan class="s6" dy="1.8">3</tspan></text><text x="469.5" y="428.9" class="js" textLength="20.5" lengthAdjust="spacingAndGlyphs"><tspan dy="0.0">In</tspan><tspan class="s6" dy="1.8">2</tspan><tspan dy="-1.8">Te</tspan><tspan class="s6" dy="1.8">3</tspan></text><text x="483.5" y="399.7" class="js" textLength="22.2" lengthAdjust="spacingAndGlyphs"><tspan dy="0.0">Ga</tspan><tspan class="s6" dy="1.8">2</tspan><tspan dy="-1.8">Se</tspan><tspan class="s6" dy="1.8">3</tspan></text><text x="556.2" y="397.2" class="js" textLength="19.0" lengthAdjust="spacingAndGlyphs"><tspan dy="0.0">Ga</tspan><tspan class="s6" dy="1.8">2</tspan><tspan dy="-1.8">S</tspan><tspan class="s6" dy="1.8">3</tspan></text><text x="538.7" y="420.2" class="js" textLength="19.7" lengthAdjust="spacingAndGlyphs"><tspan dy="0.0">In</tspan><tspan class="s6" dy="1.8">2</tspan><tspan dy="-1.8">Se</tspan><tspan class="s6" dy="1.8">3</tspan></text><text x="568.0" y="418.0" class="js" textLength="20.0" lengthAdjust="spacingAndGlyphs"><tspan dy="0.0">Al</tspan><tspan class="s6" dy="1.8">2</tspan><tspan dy="-1.8">Se</tspan><tspan class="s6" dy="1.8">3</tspan></text><text x="608.7" y="417.0" class="js" textLength="15.3" lengthAdjust="spacingAndGlyphs"><tspan dy="0.0">In</tspan><tspan class="s6" dy="1.8">2</tspan><tspan dy="-1.8">S</tspan><tspan class="s6" dy="1.8">3</tspan></text><text x="648.8" y="413.8" class="js" textLength="16.5" lengthAdjust="spacingAndGlyphs"><tspan dy="0.0">Al</tspan><tspan class="s6" dy="1.8">2</tspan><tspan dy="-1.8">S</tspan><tspan class="s6" dy="1.8">3</tspan></text><path d="M421.3,362.0 V614.5 H684.0 V362.0 Z" fill="none" stroke="#000" stroke-width="1.4"/><path d="M421.3,525.10 H417.1 M421.3,514.59 H419.0 M421.3,508.45 H419.0 M421.3,504.09 H419.0 M421.3,500.71 H419.0 M421.3,497.94 H419.0 M421.3,495.61 H419.0 M421.3,493.58 H419.0 M421.3,491.80 H419.0 M421.3,490.20 H417.1 M421.3,479.69 H419.0 M421.3,473.55 H419.0 M421.3,469.19 H419.0 M421.3,465.81 H419.0 M421.3,463.04 H419.0 M421.3,460.71 H419.0 M421.3,458.68 H419.0 M421.3,456.90 H419.0 M421.3,455.30 H417.1 M421.3,444.79 H419.0 M421.3,438.65 H419.0 M421.3,434.29 H419.0 M421.3,430.91 H419.0 M421.3,428.14 H419.0 M421.3,425.81 H419.0 M421.3,423.78 H419.0 M421.3,422.00 H419.0 M421.3,420.40 H417.1 M421.3,409.89 H419.0 M421.3,403.75 H419.0 M421.3,399.39 H419.0 M421.3,396.01 H419.0 M421.3,393.24 H419.0 M421.3,390.91 H419.0 M421.3,388.88 H419.0 M421.3,387.10 H419.0 M421.3,385.50 H417.1 M421.3,374.99 H419.0 M421.3,368.85 H419.0 M421.3,364.49 H419.0 M421.3,526.70 H419.0 M421.3,528.48 H419.0 M421.3,614.00 H417.1 M421.3,602.38 H419.0 M421.3,595.58 H419.0 M421.3,590.76 H419.0 M421.3,587.02 H419.0 M421.3,583.96 H419.0 M421.3,581.38 H419.0 M421.3,579.14 H419.0 M421.3,577.17 H419.0 M421.3,575.40 H417.1 M421.3,563.78 H419.0 M421.3,556.98 H419.0 M421.3,552.16 H419.0 M421.8,614.5 V618.3 M462.0,614.5 V618.3 M502.2,614.5 V618.3 M542.5,614.5 V618.3 M582.8,614.5 V618.3 M623.0,614.5 V618.3 M663.2,614.5 V618.3" stroke="#000" stroke-width="1.1" fill="none"/><rect x="417" y="533" width="8" height="7" fill="#fff" transform="rotate(-30 421.3 536.5)"/><path d="M415.5,537 L427,530.5 M415.5,541.5 L427,535" stroke="#000" stroke-width="1.2"/><text x="413.8" y="390.4" class="jy" text-anchor="end">10<tspan class="sup" dy="-4.6">1</tspan></text><text x="413.8" y="425.3" class="jy" text-anchor="end">10<tspan class="sup" dy="-4.6">0</tspan></text><text x="413.8" y="460.2" class="jy" text-anchor="end">10<tspan class="sup" dy="-4.6">-1</tspan></text><text x="413.8" y="495.1" class="jy" text-anchor="end">10<tspan class="sup" dy="-4.6">-2</tspan></text><text x="413.8" y="530.0" class="jy" text-anchor="end">10<tspan class="sup" dy="-4.6">-3</tspan></text><text x="413.8" y="580.3" class="jy" text-anchor="end">10<tspan class="sup" dy="-4.6">-10</tspan></text><text x="413.8" y="618.9" class="jy" text-anchor="end">10<tspan class="sup" dy="-4.6">-11</tspan></text><text x="462.0" y="631.5" class="jx" text-anchor="middle">0</text><text x="542.5" y="631.5" class="jx" text-anchor="middle">1</text><text x="623.0" y="631.5" class="jx" text-anchor="middle">2</text><text x="454.3" y="648.2" class="ax" textLength="198" lengthAdjust="spacingAndGlyphs">High-symmetry Bandgap (eV)</text><text transform="translate(382.8,552.8) rotate(-90)" class="ax" textLength="129.5" lengthAdjust="spacingAndGlyphs">CDW Bandgap (eV)</text><text x="376.7" y="363.8" class="lbl">j</text>
</svg></body></html>
